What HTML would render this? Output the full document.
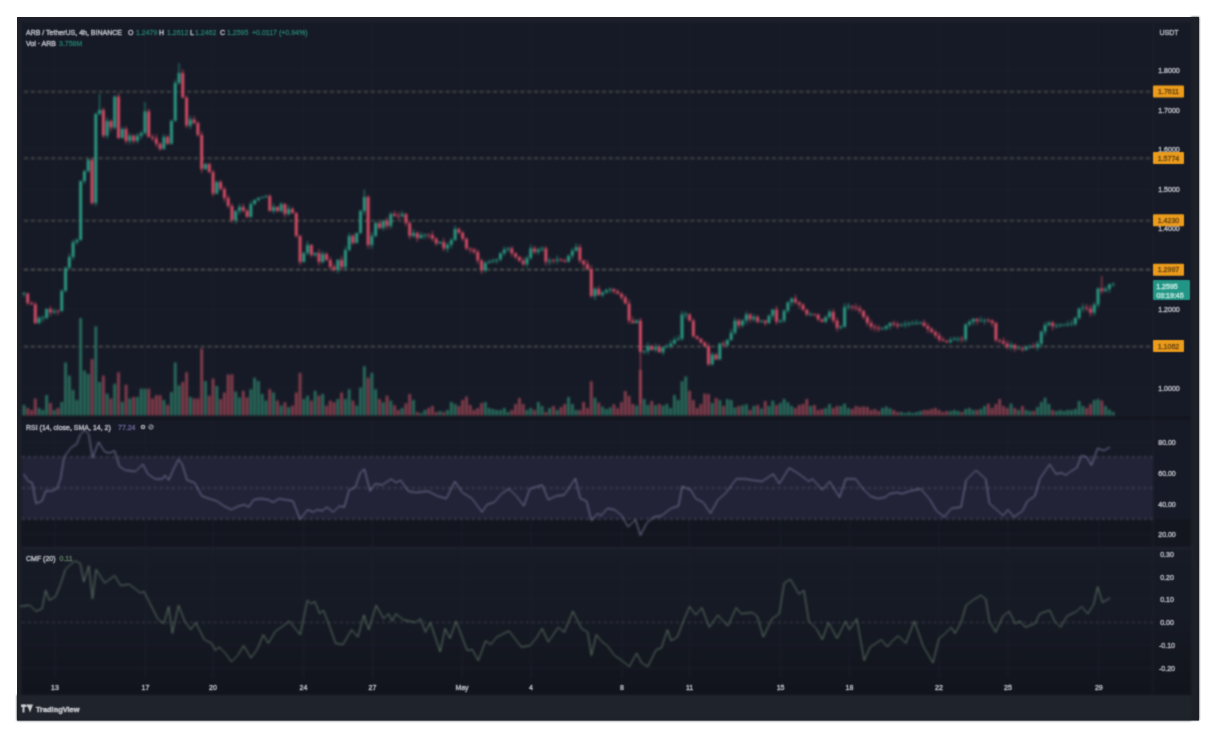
<!DOCTYPE html><html><head><meta charset="utf-8"><style>html,body{margin:0;padding:0;width:1220px;height:740px;overflow:hidden;background:#fff}</style></head><body><svg width="1220" height="740" viewBox="0 0 1220 740" style="position:absolute;left:0;top:0">
<defs><linearGradient id="cg" x1="0" y1="0" x2="0" y2="1"><stop offset="0" stop-color="#171b26"/><stop offset="0.45" stop-color="#161a24"/><stop offset="1" stop-color="#11141c"/></linearGradient><filter id="bl" x="-5%" y="-5%" width="110%" height="110%" color-interpolation-filters="sRGB"><feGaussianBlur stdDeviation="0.85"/></filter><filter id="bt" x="-5%" y="-5%" width="110%" height="110%" color-interpolation-filters="sRGB"><feConvolveMatrix order="3" kernelMatrix="1 3 1 3 9 3 1 3 1" divisor="25" preserveAlpha="false"/></filter></defs>
<rect x="0" y="0" width="1220" height="740" fill="#ffffff"/>
<rect x="17" y="17" width="1182" height="703.5" fill="#1d2029"/>
<g filter="url(#bl)">
<rect x="21.5" y="22.5" width="1169.5" height="672.5" fill="#161a26"/>
<rect x="1191" y="17" width="8" height="703" fill="#1d2027"/>
<rect x="17" y="695" width="1174" height="25.5" fill="#1f232b"/>
<rect x="21.5" y="519" width="1169.5" height="29" fill="#13161f"/>
<rect x="21.5" y="548" width="1169.5" height="147" fill="url(#cg)"/>
<line x1="55" y1="20" x2="55" y2="678" stroke="#1b1f2b" stroke-width="1"/>
<line x1="145.5" y1="20" x2="145.5" y2="678" stroke="#1b1f2b" stroke-width="1"/>
<line x1="213" y1="20" x2="213" y2="678" stroke="#1b1f2b" stroke-width="1"/>
<line x1="303.5" y1="20" x2="303.5" y2="678" stroke="#1b1f2b" stroke-width="1"/>
<line x1="372.5" y1="20" x2="372.5" y2="678" stroke="#1b1f2b" stroke-width="1"/>
<line x1="462" y1="20" x2="462" y2="678" stroke="#1b1f2b" stroke-width="1"/>
<line x1="531" y1="20" x2="531" y2="678" stroke="#1b1f2b" stroke-width="1"/>
<line x1="622" y1="20" x2="622" y2="678" stroke="#1b1f2b" stroke-width="1"/>
<line x1="689.6" y1="20" x2="689.6" y2="678" stroke="#1b1f2b" stroke-width="1"/>
<line x1="780.6" y1="20" x2="780.6" y2="678" stroke="#1b1f2b" stroke-width="1"/>
<line x1="849.4" y1="20" x2="849.4" y2="678" stroke="#1b1f2b" stroke-width="1"/>
<line x1="939" y1="20" x2="939" y2="678" stroke="#1b1f2b" stroke-width="1"/>
<line x1="1008" y1="20" x2="1008" y2="678" stroke="#1b1f2b" stroke-width="1"/>
<line x1="1098.8" y1="20" x2="1098.8" y2="678" stroke="#1b1f2b" stroke-width="1"/>
<line x1="22" y1="70" x2="1153" y2="70" stroke="#1a1e2a" stroke-width="1"/>
<line x1="22" y1="110" x2="1153" y2="110" stroke="#1a1e2a" stroke-width="1"/>
<line x1="22" y1="149" x2="1153" y2="149" stroke="#1a1e2a" stroke-width="1"/>
<line x1="22" y1="189.5" x2="1153" y2="189.5" stroke="#1a1e2a" stroke-width="1"/>
<line x1="22" y1="228" x2="1153" y2="228" stroke="#1a1e2a" stroke-width="1"/>
<line x1="22" y1="269" x2="1153" y2="269" stroke="#1a1e2a" stroke-width="1"/>
<line x1="22" y1="309.5" x2="1153" y2="309.5" stroke="#1a1e2a" stroke-width="1"/>
<line x1="22" y1="348" x2="1153" y2="348" stroke="#1a1e2a" stroke-width="1"/>
<line x1="22" y1="388" x2="1153" y2="388" stroke="#1a1e2a" stroke-width="1"/>
<line x1="22" y1="442.5" x2="1153" y2="442.5" stroke="#1b1f2b" stroke-width="1"/>
<line x1="22" y1="473.5" x2="1153" y2="473.5" stroke="#1b1f2b" stroke-width="1"/>
<line x1="22" y1="504" x2="1153" y2="504" stroke="#1b1f2b" stroke-width="1"/>
<line x1="22" y1="534.3" x2="1153" y2="534.3" stroke="#1b1f2b" stroke-width="1"/>
<line x1="22" y1="554" x2="1153" y2="554" stroke="#1b1f2b" stroke-width="1"/>
<line x1="22" y1="577" x2="1153" y2="577" stroke="#1b1f2b" stroke-width="1"/>
<line x1="22" y1="599" x2="1153" y2="599" stroke="#1b1f2b" stroke-width="1"/>
<line x1="22" y1="645" x2="1153" y2="645" stroke="#1b1f2b" stroke-width="1"/>
<line x1="22" y1="668" x2="1153" y2="668" stroke="#1b1f2b" stroke-width="1"/>
<rect x="21.5" y="416" width="1169.5" height="4" fill="#13161e"/>
<rect x="22" y="547" width="1169" height="2" fill="#1f2330"/>
<line x1="1153" y1="20" x2="1153" y2="695" stroke="#1c202b" stroke-width="1"/>
<rect x="22" y="457" width="1131" height="62" fill="#222337"/>
<line x1="22" y1="457" x2="1153" y2="457" stroke="#5c5f6e" stroke-width="1" stroke-dasharray="2.5,3.5"/>
<line x1="22" y1="488" x2="1153" y2="488" stroke="#5c5f6e" stroke-width="1" stroke-dasharray="2.5,3.5"/>
<line x1="22" y1="519" x2="1153" y2="519" stroke="#5c5f6e" stroke-width="1" stroke-dasharray="2.5,3.5"/>
<line x1="22" y1="622.4" x2="1153" y2="622.4" stroke="#4a4d58" stroke-width="1" stroke-dasharray="2.5,3.5"/>
<line x1="22" y1="91.8" x2="1150" y2="91.8" stroke="#6f7062" stroke-width="1.1" stroke-dasharray="4,2.8" stroke-dashoffset="-2"/>
<line x1="22" y1="158.2" x2="1150" y2="158.2" stroke="#6f7062" stroke-width="1.1" stroke-dasharray="4,2.8" stroke-dashoffset="-2"/>
<line x1="22" y1="220.8" x2="1150" y2="220.8" stroke="#6f7062" stroke-width="1.1" stroke-dasharray="4,2.8" stroke-dashoffset="-2"/>
<line x1="22" y1="269.6" x2="1150" y2="269.6" stroke="#6f7062" stroke-width="1.1" stroke-dasharray="4,2.8" stroke-dashoffset="-2"/>
<line x1="22" y1="346.5" x2="1150" y2="346.5" stroke="#6f7062" stroke-width="1.1" stroke-dasharray="4,2.8" stroke-dashoffset="-2"/>
<rect x="22.59" y="405.00" width="2.7" height="10.50" fill="#2a705f"/>
<rect x="26.37" y="408.00" width="2.7" height="7.50" fill="#8a3f4e"/>
<rect x="30.15" y="410.00" width="2.7" height="5.50" fill="#8a3f4e"/>
<rect x="33.93" y="398.50" width="2.7" height="17.00" fill="#8a3f4e"/>
<rect x="37.72" y="408.00" width="2.7" height="7.50" fill="#2a705f"/>
<rect x="41.50" y="410.00" width="2.7" height="5.50" fill="#2a705f"/>
<rect x="45.28" y="395.00" width="2.7" height="20.50" fill="#2a705f"/>
<rect x="49.06" y="403.00" width="2.7" height="12.50" fill="#8a3f4e"/>
<rect x="52.84" y="410.00" width="2.7" height="5.50" fill="#2a705f"/>
<rect x="56.63" y="408.00" width="2.7" height="7.50" fill="#8a3f4e"/>
<rect x="60.41" y="402.00" width="2.7" height="13.50" fill="#2a705f"/>
<rect x="64.19" y="362.50" width="2.7" height="53.00" fill="#2a705f"/>
<rect x="67.97" y="375.60" width="2.7" height="39.90" fill="#2a705f"/>
<rect x="71.75" y="390.00" width="2.7" height="25.50" fill="#2a705f"/>
<rect x="75.54" y="400.00" width="2.7" height="15.50" fill="#2a705f"/>
<rect x="79.32" y="318.00" width="2.7" height="97.50" fill="#2a705f"/>
<rect x="83.10" y="370.60" width="2.7" height="44.90" fill="#2a705f"/>
<rect x="86.88" y="374.00" width="2.7" height="41.50" fill="#2a705f"/>
<rect x="90.66" y="359.00" width="2.7" height="56.50" fill="#8a3f4e"/>
<rect x="94.45" y="326.40" width="2.7" height="89.10" fill="#2a705f"/>
<rect x="98.23" y="382.00" width="2.7" height="33.50" fill="#2a705f"/>
<rect x="102.01" y="375.60" width="2.7" height="39.90" fill="#8a3f4e"/>
<rect x="105.79" y="393.60" width="2.7" height="21.90" fill="#2a705f"/>
<rect x="109.57" y="398.50" width="2.7" height="17.00" fill="#8a3f4e"/>
<rect x="113.36" y="383.80" width="2.7" height="31.70" fill="#2a705f"/>
<rect x="117.14" y="372.30" width="2.7" height="43.20" fill="#8a3f4e"/>
<rect x="120.92" y="401.80" width="2.7" height="13.70" fill="#2a705f"/>
<rect x="124.70" y="384.60" width="2.7" height="30.90" fill="#8a3f4e"/>
<rect x="128.48" y="398.50" width="2.7" height="17.00" fill="#2a705f"/>
<rect x="132.27" y="397.00" width="2.7" height="18.50" fill="#8a3f4e"/>
<rect x="136.05" y="397.00" width="2.7" height="18.50" fill="#2a705f"/>
<rect x="139.83" y="388.70" width="2.7" height="26.80" fill="#2a705f"/>
<rect x="143.61" y="388.70" width="2.7" height="26.80" fill="#2a705f"/>
<rect x="147.39" y="388.70" width="2.7" height="26.80" fill="#8a3f4e"/>
<rect x="151.18" y="398.50" width="2.7" height="17.00" fill="#8a3f4e"/>
<rect x="154.96" y="395.20" width="2.7" height="20.30" fill="#8a3f4e"/>
<rect x="158.74" y="395.20" width="2.7" height="20.30" fill="#8a3f4e"/>
<rect x="162.52" y="400.00" width="2.7" height="15.50" fill="#2a705f"/>
<rect x="166.30" y="405.00" width="2.7" height="10.50" fill="#8a3f4e"/>
<rect x="170.09" y="392.00" width="2.7" height="23.50" fill="#2a705f"/>
<rect x="173.87" y="362.50" width="2.7" height="53.00" fill="#2a705f"/>
<rect x="177.65" y="385.40" width="2.7" height="30.10" fill="#2a705f"/>
<rect x="181.43" y="382.00" width="2.7" height="33.50" fill="#8a3f4e"/>
<rect x="185.21" y="372.30" width="2.7" height="43.20" fill="#8a3f4e"/>
<rect x="189.00" y="397.00" width="2.7" height="18.50" fill="#2a705f"/>
<rect x="192.78" y="398.50" width="2.7" height="17.00" fill="#8a3f4e"/>
<rect x="196.56" y="398.50" width="2.7" height="17.00" fill="#8a3f4e"/>
<rect x="200.34" y="348.50" width="2.7" height="67.00" fill="#8a3f4e"/>
<rect x="204.12" y="381.00" width="2.7" height="34.50" fill="#2a705f"/>
<rect x="207.91" y="395.70" width="2.7" height="19.80" fill="#8a3f4e"/>
<rect x="211.69" y="378.50" width="2.7" height="37.00" fill="#8a3f4e"/>
<rect x="215.47" y="386.00" width="2.7" height="29.50" fill="#2a705f"/>
<rect x="219.25" y="399.00" width="2.7" height="16.50" fill="#8a3f4e"/>
<rect x="223.03" y="392.50" width="2.7" height="23.00" fill="#8a3f4e"/>
<rect x="226.82" y="374.40" width="2.7" height="41.10" fill="#8a3f4e"/>
<rect x="230.60" y="374.40" width="2.7" height="41.10" fill="#8a3f4e"/>
<rect x="234.38" y="391.54" width="2.7" height="23.96" fill="#2a705f"/>
<rect x="238.16" y="397.40" width="2.7" height="18.10" fill="#2a705f"/>
<rect x="241.94" y="390.80" width="2.7" height="24.70" fill="#8a3f4e"/>
<rect x="245.73" y="397.40" width="2.7" height="18.10" fill="#8a3f4e"/>
<rect x="249.51" y="389.20" width="2.7" height="26.30" fill="#2a705f"/>
<rect x="253.29" y="377.70" width="2.7" height="37.80" fill="#2a705f"/>
<rect x="257.07" y="381.00" width="2.7" height="34.50" fill="#2a705f"/>
<rect x="260.85" y="394.00" width="2.7" height="21.50" fill="#2a705f"/>
<rect x="264.64" y="400.60" width="2.7" height="14.90" fill="#2a705f"/>
<rect x="268.42" y="389.20" width="2.7" height="26.30" fill="#8a3f4e"/>
<rect x="272.20" y="392.50" width="2.7" height="23.00" fill="#2a705f"/>
<rect x="275.98" y="400.60" width="2.7" height="14.90" fill="#8a3f4e"/>
<rect x="279.76" y="405.60" width="2.7" height="9.90" fill="#2a705f"/>
<rect x="283.55" y="402.30" width="2.7" height="13.20" fill="#8a3f4e"/>
<rect x="287.33" y="407.20" width="2.7" height="8.30" fill="#2a705f"/>
<rect x="291.11" y="405.60" width="2.7" height="9.90" fill="#8a3f4e"/>
<rect x="294.89" y="392.50" width="2.7" height="23.00" fill="#8a3f4e"/>
<rect x="298.67" y="372.80" width="2.7" height="42.70" fill="#8a3f4e"/>
<rect x="302.46" y="399.00" width="2.7" height="16.50" fill="#2a705f"/>
<rect x="306.24" y="395.70" width="2.7" height="19.80" fill="#2a705f"/>
<rect x="310.02" y="400.60" width="2.7" height="14.90" fill="#8a3f4e"/>
<rect x="313.80" y="390.80" width="2.7" height="24.70" fill="#2a705f"/>
<rect x="317.58" y="395.70" width="2.7" height="19.80" fill="#8a3f4e"/>
<rect x="321.37" y="394.00" width="2.7" height="21.50" fill="#2a705f"/>
<rect x="325.15" y="405.60" width="2.7" height="9.90" fill="#8a3f4e"/>
<rect x="328.93" y="400.60" width="2.7" height="14.90" fill="#8a3f4e"/>
<rect x="332.71" y="402.30" width="2.7" height="13.20" fill="#8a3f4e"/>
<rect x="336.49" y="399.00" width="2.7" height="16.50" fill="#2a705f"/>
<rect x="340.28" y="392.50" width="2.7" height="23.00" fill="#8a3f4e"/>
<rect x="344.06" y="399.00" width="2.7" height="16.50" fill="#2a705f"/>
<rect x="347.84" y="389.20" width="2.7" height="26.30" fill="#2a705f"/>
<rect x="351.62" y="400.60" width="2.7" height="14.90" fill="#8a3f4e"/>
<rect x="355.40" y="405.60" width="2.7" height="9.90" fill="#2a705f"/>
<rect x="359.19" y="387.50" width="2.7" height="28.00" fill="#2a705f"/>
<rect x="362.97" y="366.20" width="2.7" height="49.30" fill="#2a705f"/>
<rect x="366.75" y="377.70" width="2.7" height="37.80" fill="#8a3f4e"/>
<rect x="370.53" y="372.80" width="2.7" height="42.70" fill="#2a705f"/>
<rect x="374.31" y="389.20" width="2.7" height="26.30" fill="#2a705f"/>
<rect x="378.10" y="399.00" width="2.7" height="16.50" fill="#8a3f4e"/>
<rect x="381.88" y="402.30" width="2.7" height="13.20" fill="#2a705f"/>
<rect x="385.66" y="395.70" width="2.7" height="19.80" fill="#8a3f4e"/>
<rect x="389.44" y="400.60" width="2.7" height="14.90" fill="#2a705f"/>
<rect x="393.22" y="405.30" width="2.7" height="10.20" fill="#8a3f4e"/>
<rect x="397.01" y="410.00" width="2.7" height="5.50" fill="#8a3f4e"/>
<rect x="400.79" y="408.00" width="2.7" height="7.50" fill="#2a705f"/>
<rect x="404.57" y="403.28" width="2.7" height="12.22" fill="#8a3f4e"/>
<rect x="408.35" y="394.00" width="2.7" height="21.50" fill="#8a3f4e"/>
<rect x="412.13" y="400.00" width="2.7" height="15.50" fill="#2a705f"/>
<rect x="415.92" y="412.00" width="2.7" height="3.50" fill="#8a3f4e"/>
<rect x="419.70" y="413.00" width="2.7" height="2.50" fill="#2a705f"/>
<rect x="423.48" y="410.00" width="2.7" height="5.50" fill="#2a705f"/>
<rect x="427.26" y="408.00" width="2.7" height="7.50" fill="#8a3f4e"/>
<rect x="431.04" y="406.00" width="2.7" height="9.50" fill="#8a3f4e"/>
<rect x="434.83" y="412.00" width="2.7" height="3.50" fill="#8a3f4e"/>
<rect x="438.61" y="411.00" width="2.7" height="4.50" fill="#2a705f"/>
<rect x="442.39" y="412.00" width="2.7" height="3.50" fill="#8a3f4e"/>
<rect x="446.17" y="410.00" width="2.7" height="5.50" fill="#2a705f"/>
<rect x="449.95" y="402.00" width="2.7" height="13.50" fill="#2a705f"/>
<rect x="453.74" y="404.00" width="2.7" height="11.50" fill="#2a705f"/>
<rect x="457.52" y="406.00" width="2.7" height="9.50" fill="#8a3f4e"/>
<rect x="461.30" y="400.00" width="2.7" height="15.50" fill="#8a3f4e"/>
<rect x="465.08" y="396.60" width="2.7" height="18.90" fill="#8a3f4e"/>
<rect x="468.86" y="405.00" width="2.7" height="10.50" fill="#8a3f4e"/>
<rect x="472.65" y="410.00" width="2.7" height="5.50" fill="#8a3f4e"/>
<rect x="476.43" y="408.00" width="2.7" height="7.50" fill="#8a3f4e"/>
<rect x="480.21" y="403.00" width="2.7" height="12.50" fill="#8a3f4e"/>
<rect x="483.99" y="402.00" width="2.7" height="13.50" fill="#2a705f"/>
<rect x="487.77" y="408.00" width="2.7" height="7.50" fill="#2a705f"/>
<rect x="491.56" y="408.95" width="2.7" height="6.55" fill="#2a705f"/>
<rect x="495.34" y="410.00" width="2.7" height="5.50" fill="#2a705f"/>
<rect x="499.12" y="410.00" width="2.7" height="5.50" fill="#2a705f"/>
<rect x="502.90" y="408.00" width="2.7" height="7.50" fill="#2a705f"/>
<rect x="506.68" y="412.00" width="2.7" height="3.50" fill="#2a705f"/>
<rect x="510.47" y="410.00" width="2.7" height="5.50" fill="#8a3f4e"/>
<rect x="514.25" y="404.00" width="2.7" height="11.50" fill="#8a3f4e"/>
<rect x="518.03" y="398.00" width="2.7" height="17.50" fill="#8a3f4e"/>
<rect x="521.81" y="404.00" width="2.7" height="11.50" fill="#8a3f4e"/>
<rect x="525.59" y="410.00" width="2.7" height="5.50" fill="#2a705f"/>
<rect x="529.38" y="408.00" width="2.7" height="7.50" fill="#2a705f"/>
<rect x="533.16" y="410.00" width="2.7" height="5.50" fill="#8a3f4e"/>
<rect x="536.94" y="402.00" width="2.7" height="13.50" fill="#2a705f"/>
<rect x="540.72" y="406.00" width="2.7" height="9.50" fill="#2a705f"/>
<rect x="544.50" y="412.00" width="2.7" height="3.50" fill="#8a3f4e"/>
<rect x="548.29" y="408.00" width="2.7" height="7.50" fill="#2a705f"/>
<rect x="552.07" y="406.00" width="2.7" height="9.50" fill="#8a3f4e"/>
<rect x="555.85" y="410.00" width="2.7" height="5.50" fill="#2a705f"/>
<rect x="559.63" y="407.03" width="2.7" height="8.47" fill="#8a3f4e"/>
<rect x="563.41" y="404.00" width="2.7" height="11.50" fill="#8a3f4e"/>
<rect x="567.20" y="397.00" width="2.7" height="18.50" fill="#2a705f"/>
<rect x="570.98" y="404.00" width="2.7" height="11.50" fill="#2a705f"/>
<rect x="574.76" y="410.00" width="2.7" height="5.50" fill="#2a705f"/>
<rect x="578.54" y="410.00" width="2.7" height="5.50" fill="#8a3f4e"/>
<rect x="582.32" y="402.00" width="2.7" height="13.50" fill="#8a3f4e"/>
<rect x="586.11" y="408.00" width="2.7" height="7.50" fill="#8a3f4e"/>
<rect x="589.89" y="381.30" width="2.7" height="34.20" fill="#8a3f4e"/>
<rect x="593.67" y="397.70" width="2.7" height="17.80" fill="#2a705f"/>
<rect x="597.45" y="402.76" width="2.7" height="12.74" fill="#8a3f4e"/>
<rect x="601.23" y="406.70" width="2.7" height="8.80" fill="#2a705f"/>
<rect x="605.02" y="409.00" width="2.7" height="6.50" fill="#2a705f"/>
<rect x="608.80" y="407.50" width="2.7" height="8.00" fill="#2a705f"/>
<rect x="612.58" y="404.30" width="2.7" height="11.20" fill="#8a3f4e"/>
<rect x="616.36" y="408.30" width="2.7" height="7.20" fill="#8a3f4e"/>
<rect x="620.14" y="402.00" width="2.7" height="13.50" fill="#8a3f4e"/>
<rect x="623.93" y="391.00" width="2.7" height="24.50" fill="#8a3f4e"/>
<rect x="627.71" y="395.94" width="2.7" height="19.56" fill="#8a3f4e"/>
<rect x="631.49" y="404.00" width="2.7" height="11.50" fill="#8a3f4e"/>
<rect x="635.27" y="405.60" width="2.7" height="9.90" fill="#2a705f"/>
<rect x="639.05" y="370.00" width="2.7" height="45.50" fill="#8a3f4e"/>
<rect x="642.84" y="399.00" width="2.7" height="16.50" fill="#2a705f"/>
<rect x="646.62" y="405.00" width="2.7" height="10.50" fill="#2a705f"/>
<rect x="650.40" y="401.00" width="2.7" height="14.50" fill="#8a3f4e"/>
<rect x="654.18" y="405.00" width="2.7" height="10.50" fill="#2a705f"/>
<rect x="657.96" y="404.00" width="2.7" height="11.50" fill="#8a3f4e"/>
<rect x="661.75" y="405.60" width="2.7" height="9.90" fill="#2a705f"/>
<rect x="665.53" y="404.00" width="2.7" height="11.50" fill="#2a705f"/>
<rect x="669.31" y="408.00" width="2.7" height="7.50" fill="#2a705f"/>
<rect x="673.09" y="395.00" width="2.7" height="20.50" fill="#2a705f"/>
<rect x="676.87" y="400.00" width="2.7" height="15.50" fill="#2a705f"/>
<rect x="680.66" y="381.30" width="2.7" height="34.20" fill="#2a705f"/>
<rect x="684.44" y="376.40" width="2.7" height="39.10" fill="#2a705f"/>
<rect x="688.22" y="390.70" width="2.7" height="24.80" fill="#8a3f4e"/>
<rect x="692.00" y="400.00" width="2.7" height="15.50" fill="#8a3f4e"/>
<rect x="695.78" y="408.00" width="2.7" height="7.50" fill="#8a3f4e"/>
<rect x="699.57" y="404.00" width="2.7" height="11.50" fill="#8a3f4e"/>
<rect x="703.35" y="393.60" width="2.7" height="21.90" fill="#8a3f4e"/>
<rect x="707.13" y="394.00" width="2.7" height="21.50" fill="#8a3f4e"/>
<rect x="710.91" y="403.00" width="2.7" height="12.50" fill="#2a705f"/>
<rect x="714.69" y="398.00" width="2.7" height="17.50" fill="#8a3f4e"/>
<rect x="718.48" y="400.00" width="2.7" height="15.50" fill="#2a705f"/>
<rect x="722.26" y="406.00" width="2.7" height="9.50" fill="#8a3f4e"/>
<rect x="726.04" y="399.00" width="2.7" height="16.50" fill="#2a705f"/>
<rect x="729.82" y="400.00" width="2.7" height="15.50" fill="#2a705f"/>
<rect x="733.60" y="407.50" width="2.7" height="8.00" fill="#2a705f"/>
<rect x="737.39" y="406.00" width="2.7" height="9.50" fill="#8a3f4e"/>
<rect x="741.17" y="405.33" width="2.7" height="10.17" fill="#2a705f"/>
<rect x="744.95" y="404.30" width="2.7" height="11.20" fill="#2a705f"/>
<rect x="748.73" y="410.00" width="2.7" height="5.50" fill="#8a3f4e"/>
<rect x="752.51" y="406.00" width="2.7" height="9.50" fill="#2a705f"/>
<rect x="756.30" y="405.00" width="2.7" height="10.50" fill="#8a3f4e"/>
<rect x="760.08" y="408.50" width="2.7" height="7.00" fill="#2a705f"/>
<rect x="763.86" y="401.00" width="2.7" height="14.50" fill="#8a3f4e"/>
<rect x="767.64" y="406.00" width="2.7" height="9.50" fill="#2a705f"/>
<rect x="771.42" y="400.60" width="2.7" height="14.90" fill="#2a705f"/>
<rect x="775.21" y="405.00" width="2.7" height="10.50" fill="#8a3f4e"/>
<rect x="778.99" y="403.00" width="2.7" height="12.50" fill="#2a705f"/>
<rect x="782.77" y="399.00" width="2.7" height="16.50" fill="#2a705f"/>
<rect x="786.55" y="402.33" width="2.7" height="13.17" fill="#2a705f"/>
<rect x="790.33" y="406.00" width="2.7" height="9.50" fill="#2a705f"/>
<rect x="794.12" y="408.00" width="2.7" height="7.50" fill="#8a3f4e"/>
<rect x="797.90" y="405.00" width="2.7" height="10.50" fill="#8a3f4e"/>
<rect x="801.68" y="404.00" width="2.7" height="11.50" fill="#8a3f4e"/>
<rect x="805.46" y="399.00" width="2.7" height="16.50" fill="#8a3f4e"/>
<rect x="809.24" y="406.00" width="2.7" height="9.50" fill="#2a705f"/>
<rect x="813.03" y="405.00" width="2.7" height="10.50" fill="#8a3f4e"/>
<rect x="816.81" y="410.00" width="2.7" height="5.50" fill="#8a3f4e"/>
<rect x="820.59" y="409.03" width="2.7" height="6.47" fill="#8a3f4e"/>
<rect x="824.37" y="408.00" width="2.7" height="7.50" fill="#2a705f"/>
<rect x="828.15" y="404.00" width="2.7" height="11.50" fill="#2a705f"/>
<rect x="831.94" y="408.00" width="2.7" height="7.50" fill="#8a3f4e"/>
<rect x="835.72" y="406.00" width="2.7" height="9.50" fill="#8a3f4e"/>
<rect x="839.50" y="406.00" width="2.7" height="9.50" fill="#2a705f"/>
<rect x="843.28" y="403.60" width="2.7" height="11.90" fill="#2a705f"/>
<rect x="847.06" y="408.00" width="2.7" height="7.50" fill="#2a705f"/>
<rect x="850.85" y="409.00" width="2.7" height="6.50" fill="#8a3f4e"/>
<rect x="854.63" y="406.00" width="2.7" height="9.50" fill="#8a3f4e"/>
<rect x="858.41" y="407.00" width="2.7" height="8.50" fill="#8a3f4e"/>
<rect x="862.19" y="406.50" width="2.7" height="9.00" fill="#8a3f4e"/>
<rect x="865.97" y="407.00" width="2.7" height="8.50" fill="#8a3f4e"/>
<rect x="869.76" y="410.00" width="2.7" height="5.50" fill="#8a3f4e"/>
<rect x="873.54" y="409.00" width="2.7" height="6.50" fill="#8a3f4e"/>
<rect x="877.32" y="411.00" width="2.7" height="4.50" fill="#8a3f4e"/>
<rect x="881.10" y="408.00" width="2.7" height="7.50" fill="#2a705f"/>
<rect x="884.88" y="406.50" width="2.7" height="9.00" fill="#2a705f"/>
<rect x="888.67" y="408.26" width="2.7" height="7.24" fill="#2a705f"/>
<rect x="892.45" y="410.00" width="2.7" height="5.50" fill="#8a3f4e"/>
<rect x="896.23" y="412.00" width="2.7" height="3.50" fill="#8a3f4e"/>
<rect x="900.01" y="412.00" width="2.7" height="3.50" fill="#2a705f"/>
<rect x="903.79" y="413.00" width="2.7" height="2.50" fill="#2a705f"/>
<rect x="907.58" y="412.00" width="2.7" height="3.50" fill="#2a705f"/>
<rect x="911.36" y="413.00" width="2.7" height="2.50" fill="#2a705f"/>
<rect x="915.14" y="412.00" width="2.7" height="3.50" fill="#2a705f"/>
<rect x="918.92" y="411.00" width="2.7" height="4.50" fill="#2a705f"/>
<rect x="922.70" y="410.00" width="2.7" height="5.50" fill="#8a3f4e"/>
<rect x="926.49" y="410.00" width="2.7" height="5.50" fill="#8a3f4e"/>
<rect x="930.27" y="409.00" width="2.7" height="6.50" fill="#8a3f4e"/>
<rect x="934.05" y="408.00" width="2.7" height="7.50" fill="#8a3f4e"/>
<rect x="937.83" y="410.00" width="2.7" height="5.50" fill="#8a3f4e"/>
<rect x="941.61" y="412.00" width="2.7" height="3.50" fill="#8a3f4e"/>
<rect x="945.40" y="411.00" width="2.7" height="4.50" fill="#8a3f4e"/>
<rect x="949.18" y="411.00" width="2.7" height="4.50" fill="#2a705f"/>
<rect x="952.96" y="410.00" width="2.7" height="5.50" fill="#2a705f"/>
<rect x="956.74" y="411.05" width="2.7" height="4.45" fill="#2a705f"/>
<rect x="960.52" y="412.00" width="2.7" height="3.50" fill="#8a3f4e"/>
<rect x="964.31" y="409.00" width="2.7" height="6.50" fill="#2a705f"/>
<rect x="968.09" y="408.00" width="2.7" height="7.50" fill="#2a705f"/>
<rect x="971.87" y="410.00" width="2.7" height="5.50" fill="#2a705f"/>
<rect x="975.65" y="410.00" width="2.7" height="5.50" fill="#8a3f4e"/>
<rect x="979.43" y="409.00" width="2.7" height="6.50" fill="#2a705f"/>
<rect x="983.22" y="406.00" width="2.7" height="9.50" fill="#2a705f"/>
<rect x="987.00" y="403.60" width="2.7" height="11.90" fill="#8a3f4e"/>
<rect x="990.78" y="408.00" width="2.7" height="7.50" fill="#8a3f4e"/>
<rect x="994.56" y="404.00" width="2.7" height="11.50" fill="#8a3f4e"/>
<rect x="998.34" y="399.00" width="2.7" height="16.50" fill="#8a3f4e"/>
<rect x="1002.13" y="406.00" width="2.7" height="9.50" fill="#8a3f4e"/>
<rect x="1005.91" y="408.00" width="2.7" height="7.50" fill="#8a3f4e"/>
<rect x="1009.69" y="403.60" width="2.7" height="11.90" fill="#2a705f"/>
<rect x="1013.47" y="408.00" width="2.7" height="7.50" fill="#8a3f4e"/>
<rect x="1017.25" y="410.00" width="2.7" height="5.50" fill="#2a705f"/>
<rect x="1021.04" y="406.00" width="2.7" height="9.50" fill="#8a3f4e"/>
<rect x="1024.82" y="410.00" width="2.7" height="5.50" fill="#2a705f"/>
<rect x="1028.60" y="411.00" width="2.7" height="4.50" fill="#2a705f"/>
<rect x="1032.38" y="411.00" width="2.7" height="4.50" fill="#8a3f4e"/>
<rect x="1036.16" y="407.00" width="2.7" height="8.50" fill="#2a705f"/>
<rect x="1039.95" y="402.00" width="2.7" height="13.50" fill="#2a705f"/>
<rect x="1043.73" y="397.70" width="2.7" height="17.80" fill="#2a705f"/>
<rect x="1047.51" y="404.00" width="2.7" height="11.50" fill="#2a705f"/>
<rect x="1051.29" y="410.00" width="2.7" height="5.50" fill="#8a3f4e"/>
<rect x="1055.07" y="411.00" width="2.7" height="4.50" fill="#2a705f"/>
<rect x="1058.86" y="410.00" width="2.7" height="5.50" fill="#2a705f"/>
<rect x="1062.64" y="411.00" width="2.7" height="4.50" fill="#2a705f"/>
<rect x="1066.42" y="410.00" width="2.7" height="5.50" fill="#2a705f"/>
<rect x="1070.20" y="410.00" width="2.7" height="5.50" fill="#2a705f"/>
<rect x="1073.98" y="409.00" width="2.7" height="6.50" fill="#2a705f"/>
<rect x="1077.77" y="401.00" width="2.7" height="14.50" fill="#2a705f"/>
<rect x="1081.55" y="406.00" width="2.7" height="9.50" fill="#2a705f"/>
<rect x="1085.33" y="408.00" width="2.7" height="7.50" fill="#8a3f4e"/>
<rect x="1089.11" y="404.00" width="2.7" height="11.50" fill="#8a3f4e"/>
<rect x="1092.89" y="400.00" width="2.7" height="15.50" fill="#2a705f"/>
<rect x="1096.68" y="399.00" width="2.7" height="16.50" fill="#2a705f"/>
<rect x="1100.46" y="400.60" width="2.7" height="14.90" fill="#8a3f4e"/>
<rect x="1104.24" y="406.00" width="2.7" height="9.50" fill="#2a705f"/>
<rect x="1108.02" y="409.50" width="2.7" height="6.00" fill="#2a705f"/>
<rect x="1111.80" y="412.00" width="2.7" height="3.50" fill="#2a705f"/>
<line x1="23.94" y1="291.97" x2="23.94" y2="296.78" stroke="#2ba58b" stroke-width="0.8"/>
<rect x="22.59" y="293.00" width="2.7" height="1.00" fill="#2ba58b"/>
<line x1="27.72" y1="292.75" x2="27.72" y2="305.38" stroke="#e64f6a" stroke-width="0.8"/>
<rect x="26.37" y="293.50" width="2.7" height="9.50" fill="#e64f6a"/>
<line x1="31.50" y1="301.22" x2="31.50" y2="305.00" stroke="#e64f6a" stroke-width="0.8"/>
<rect x="30.15" y="303.00" width="2.7" height="1.30" fill="#e64f6a"/>
<line x1="35.28" y1="302.02" x2="35.28" y2="323.83" stroke="#e64f6a" stroke-width="0.8"/>
<rect x="33.93" y="304.30" width="2.7" height="18.90" fill="#e64f6a"/>
<line x1="39.07" y1="315.98" x2="39.07" y2="323.94" stroke="#2ba58b" stroke-width="0.8"/>
<rect x="37.72" y="318.00" width="2.7" height="5.20" fill="#2ba58b"/>
<line x1="42.85" y1="315.51" x2="42.85" y2="321.89" stroke="#2ba58b" stroke-width="0.8"/>
<rect x="41.50" y="317.50" width="2.7" height="1.00" fill="#2ba58b"/>
<line x1="46.63" y1="308.07" x2="46.63" y2="319.28" stroke="#2ba58b" stroke-width="0.8"/>
<rect x="45.28" y="309.00" width="2.7" height="9.00" fill="#2ba58b"/>
<line x1="50.41" y1="306.30" x2="50.41" y2="316.22" stroke="#e64f6a" stroke-width="0.8"/>
<rect x="49.06" y="309.00" width="2.7" height="3.40" fill="#e64f6a"/>
<line x1="54.19" y1="308.48" x2="54.19" y2="314.29" stroke="#2ba58b" stroke-width="0.8"/>
<rect x="52.84" y="311.00" width="2.7" height="1.40" fill="#2ba58b"/>
<line x1="57.98" y1="309.84" x2="57.98" y2="315.00" stroke="#e64f6a" stroke-width="0.8"/>
<rect x="56.63" y="310.50" width="2.7" height="1.00" fill="#e64f6a"/>
<line x1="61.76" y1="289.29" x2="61.76" y2="312.00" stroke="#2ba58b" stroke-width="0.8"/>
<rect x="60.41" y="290.80" width="2.7" height="20.20" fill="#2ba58b"/>
<line x1="65.54" y1="266.89" x2="65.54" y2="292.38" stroke="#2ba58b" stroke-width="0.8"/>
<rect x="64.19" y="267.80" width="2.7" height="23.00" fill="#2ba58b"/>
<line x1="69.32" y1="253.64" x2="69.32" y2="268.93" stroke="#2ba58b" stroke-width="0.8"/>
<rect x="67.97" y="257.00" width="2.7" height="10.80" fill="#2ba58b"/>
<line x1="73.10" y1="239.66" x2="73.10" y2="259.74" stroke="#2ba58b" stroke-width="0.8"/>
<rect x="71.75" y="242.20" width="2.7" height="14.80" fill="#2ba58b"/>
<line x1="76.89" y1="238.20" x2="76.89" y2="244.62" stroke="#2ba58b" stroke-width="0.8"/>
<rect x="75.54" y="240.00" width="2.7" height="2.20" fill="#2ba58b"/>
<line x1="80.67" y1="180.28" x2="80.67" y2="240.71" stroke="#2ba58b" stroke-width="0.8"/>
<rect x="79.32" y="181.00" width="2.7" height="59.00" fill="#2ba58b"/>
<line x1="84.45" y1="169.86" x2="84.45" y2="183.88" stroke="#2ba58b" stroke-width="0.8"/>
<rect x="83.10" y="171.08" width="2.7" height="9.92" fill="#2ba58b"/>
<line x1="88.23" y1="158.00" x2="88.23" y2="172.68" stroke="#2ba58b" stroke-width="0.8"/>
<rect x="86.88" y="160.00" width="2.7" height="11.08" fill="#2ba58b"/>
<line x1="92.01" y1="157.45" x2="92.01" y2="205.09" stroke="#e64f6a" stroke-width="0.8"/>
<rect x="90.66" y="160.00" width="2.7" height="43.00" fill="#e64f6a"/>
<line x1="95.80" y1="112.45" x2="95.80" y2="206.28" stroke="#2ba58b" stroke-width="0.8"/>
<rect x="94.45" y="114.00" width="2.7" height="89.00" fill="#2ba58b"/>
<line x1="99.58" y1="94.00" x2="99.58" y2="115.35" stroke="#2ba58b" stroke-width="0.8"/>
<rect x="98.23" y="110.00" width="2.7" height="4.00" fill="#2ba58b"/>
<line x1="103.36" y1="107.49" x2="103.36" y2="138.04" stroke="#e64f6a" stroke-width="0.8"/>
<rect x="102.01" y="110.00" width="2.7" height="25.70" fill="#e64f6a"/>
<line x1="107.14" y1="117.44" x2="107.14" y2="138.75" stroke="#2ba58b" stroke-width="0.8"/>
<rect x="105.79" y="121.00" width="2.7" height="14.70" fill="#2ba58b"/>
<line x1="110.92" y1="119.49" x2="110.92" y2="131.53" stroke="#e64f6a" stroke-width="0.8"/>
<rect x="109.57" y="121.00" width="2.7" height="6.60" fill="#e64f6a"/>
<line x1="114.71" y1="95.59" x2="114.71" y2="129.56" stroke="#2ba58b" stroke-width="0.8"/>
<rect x="113.36" y="96.50" width="2.7" height="31.10" fill="#2ba58b"/>
<line x1="118.49" y1="93.35" x2="118.49" y2="139.03" stroke="#e64f6a" stroke-width="0.8"/>
<rect x="117.14" y="96.50" width="2.7" height="41.50" fill="#e64f6a"/>
<line x1="122.27" y1="126.79" x2="122.27" y2="138.64" stroke="#2ba58b" stroke-width="0.8"/>
<rect x="120.92" y="129.00" width="2.7" height="9.00" fill="#2ba58b"/>
<line x1="126.05" y1="126.16" x2="126.05" y2="144.18" stroke="#e64f6a" stroke-width="0.8"/>
<rect x="124.70" y="129.00" width="2.7" height="12.00" fill="#e64f6a"/>
<line x1="129.83" y1="133.19" x2="129.83" y2="144.56" stroke="#2ba58b" stroke-width="0.8"/>
<rect x="128.48" y="135.70" width="2.7" height="5.30" fill="#2ba58b"/>
<line x1="133.62" y1="134.10" x2="133.62" y2="143.93" stroke="#e64f6a" stroke-width="0.8"/>
<rect x="132.27" y="135.70" width="2.7" height="5.30" fill="#e64f6a"/>
<line x1="137.40" y1="133.12" x2="137.40" y2="143.53" stroke="#2ba58b" stroke-width="0.8"/>
<rect x="136.05" y="135.70" width="2.7" height="5.30" fill="#2ba58b"/>
<line x1="141.18" y1="130.90" x2="141.18" y2="139.14" stroke="#2ba58b" stroke-width="0.8"/>
<rect x="139.83" y="133.00" width="2.7" height="2.70" fill="#2ba58b"/>
<line x1="144.96" y1="102.00" x2="144.96" y2="135.16" stroke="#2ba58b" stroke-width="0.8"/>
<rect x="143.61" y="111.40" width="2.7" height="21.60" fill="#2ba58b"/>
<line x1="148.74" y1="108.58" x2="148.74" y2="137.71" stroke="#e64f6a" stroke-width="0.8"/>
<rect x="147.39" y="111.40" width="2.7" height="25.60" fill="#e64f6a"/>
<line x1="152.53" y1="134.04" x2="152.53" y2="141.16" stroke="#e64f6a" stroke-width="0.8"/>
<rect x="151.18" y="137.00" width="2.7" height="1.40" fill="#e64f6a"/>
<line x1="156.31" y1="134.42" x2="156.31" y2="147.18" stroke="#e64f6a" stroke-width="0.8"/>
<rect x="154.96" y="138.40" width="2.7" height="5.40" fill="#e64f6a"/>
<line x1="160.09" y1="142.30" x2="160.09" y2="150.85" stroke="#e64f6a" stroke-width="0.8"/>
<rect x="158.74" y="143.80" width="2.7" height="5.20" fill="#e64f6a"/>
<line x1="163.87" y1="134.16" x2="163.87" y2="149.58" stroke="#2ba58b" stroke-width="0.8"/>
<rect x="162.52" y="137.00" width="2.7" height="12.00" fill="#2ba58b"/>
<line x1="167.65" y1="134.88" x2="167.65" y2="144.89" stroke="#e64f6a" stroke-width="0.8"/>
<rect x="166.30" y="137.00" width="2.7" height="6.80" fill="#e64f6a"/>
<line x1="171.44" y1="119.89" x2="171.44" y2="144.51" stroke="#2ba58b" stroke-width="0.8"/>
<rect x="170.09" y="120.80" width="2.7" height="23.00" fill="#2ba58b"/>
<line x1="175.22" y1="79.81" x2="175.22" y2="121.75" stroke="#2ba58b" stroke-width="0.8"/>
<rect x="173.87" y="83.00" width="2.7" height="37.80" fill="#2ba58b"/>
<line x1="179.00" y1="63.00" x2="179.00" y2="84.87" stroke="#2ba58b" stroke-width="0.8"/>
<rect x="177.65" y="73.00" width="2.7" height="10.00" fill="#2ba58b"/>
<line x1="182.78" y1="69.45" x2="182.78" y2="98.38" stroke="#e64f6a" stroke-width="0.8"/>
<rect x="181.43" y="73.00" width="2.7" height="24.60" fill="#e64f6a"/>
<line x1="186.56" y1="95.53" x2="186.56" y2="128.02" stroke="#e64f6a" stroke-width="0.8"/>
<rect x="185.21" y="97.60" width="2.7" height="28.00" fill="#e64f6a"/>
<line x1="190.35" y1="115.91" x2="190.35" y2="128.97" stroke="#2ba58b" stroke-width="0.8"/>
<rect x="189.00" y="119.50" width="2.7" height="6.10" fill="#2ba58b"/>
<line x1="194.13" y1="115.98" x2="194.13" y2="124.47" stroke="#e64f6a" stroke-width="0.8"/>
<rect x="192.78" y="119.50" width="2.7" height="3.50" fill="#e64f6a"/>
<line x1="197.91" y1="121.05" x2="197.91" y2="136.76" stroke="#e64f6a" stroke-width="0.8"/>
<rect x="196.56" y="123.00" width="2.7" height="12.00" fill="#e64f6a"/>
<line x1="201.69" y1="131.41" x2="201.69" y2="172.85" stroke="#e64f6a" stroke-width="0.8"/>
<rect x="200.34" y="135.00" width="2.7" height="34.00" fill="#e64f6a"/>
<line x1="205.47" y1="162.97" x2="205.47" y2="170.12" stroke="#2ba58b" stroke-width="0.8"/>
<rect x="204.12" y="164.00" width="2.7" height="5.00" fill="#2ba58b"/>
<line x1="209.26" y1="162.69" x2="209.26" y2="173.32" stroke="#e64f6a" stroke-width="0.8"/>
<rect x="207.91" y="164.00" width="2.7" height="8.00" fill="#e64f6a"/>
<line x1="213.04" y1="169.80" x2="213.04" y2="196.26" stroke="#e64f6a" stroke-width="0.8"/>
<rect x="211.69" y="172.00" width="2.7" height="21.70" fill="#e64f6a"/>
<line x1="216.82" y1="180.58" x2="216.82" y2="194.21" stroke="#2ba58b" stroke-width="0.8"/>
<rect x="215.47" y="182.00" width="2.7" height="11.70" fill="#2ba58b"/>
<line x1="220.60" y1="180.03" x2="220.60" y2="190.79" stroke="#e64f6a" stroke-width="0.8"/>
<rect x="219.25" y="182.00" width="2.7" height="7.00" fill="#e64f6a"/>
<line x1="224.38" y1="186.52" x2="224.38" y2="201.84" stroke="#e64f6a" stroke-width="0.8"/>
<rect x="223.03" y="189.00" width="2.7" height="9.00" fill="#e64f6a"/>
<line x1="228.17" y1="195.08" x2="228.17" y2="208.30" stroke="#e64f6a" stroke-width="0.8"/>
<rect x="226.82" y="198.00" width="2.7" height="8.00" fill="#e64f6a"/>
<line x1="231.95" y1="203.34" x2="231.95" y2="222.87" stroke="#e64f6a" stroke-width="0.8"/>
<rect x="230.60" y="206.00" width="2.7" height="14.00" fill="#e64f6a"/>
<line x1="235.73" y1="210.31" x2="235.73" y2="223.65" stroke="#2ba58b" stroke-width="0.8"/>
<rect x="234.38" y="211.00" width="2.7" height="9.00" fill="#2ba58b"/>
<line x1="239.51" y1="203.77" x2="239.51" y2="214.56" stroke="#2ba58b" stroke-width="0.8"/>
<rect x="238.16" y="207.00" width="2.7" height="4.00" fill="#2ba58b"/>
<line x1="243.29" y1="203.71" x2="243.29" y2="212.70" stroke="#e64f6a" stroke-width="0.8"/>
<rect x="241.94" y="207.00" width="2.7" height="3.82" fill="#e64f6a"/>
<line x1="247.08" y1="208.93" x2="247.08" y2="217.86" stroke="#e64f6a" stroke-width="0.8"/>
<rect x="245.73" y="210.82" width="2.7" height="6.18" fill="#e64f6a"/>
<line x1="250.86" y1="201.28" x2="250.86" y2="217.72" stroke="#2ba58b" stroke-width="0.8"/>
<rect x="249.51" y="204.00" width="2.7" height="13.00" fill="#2ba58b"/>
<line x1="254.64" y1="199.26" x2="254.64" y2="205.23" stroke="#2ba58b" stroke-width="0.8"/>
<rect x="253.29" y="200.00" width="2.7" height="4.00" fill="#2ba58b"/>
<line x1="258.42" y1="196.93" x2="258.42" y2="201.69" stroke="#2ba58b" stroke-width="0.8"/>
<rect x="257.07" y="198.00" width="2.7" height="2.00" fill="#2ba58b"/>
<line x1="262.20" y1="196.32" x2="262.20" y2="198.50" stroke="#2ba58b" stroke-width="0.8"/>
<rect x="260.85" y="197.00" width="2.7" height="1.00" fill="#2ba58b"/>
<line x1="265.99" y1="194.97" x2="265.99" y2="197.86" stroke="#2ba58b" stroke-width="0.8"/>
<rect x="264.64" y="196.00" width="2.7" height="1.00" fill="#2ba58b"/>
<line x1="269.77" y1="194.23" x2="269.77" y2="211.59" stroke="#e64f6a" stroke-width="0.8"/>
<rect x="268.42" y="196.00" width="2.7" height="15.00" fill="#e64f6a"/>
<line x1="273.55" y1="203.44" x2="273.55" y2="213.65" stroke="#2ba58b" stroke-width="0.8"/>
<rect x="272.20" y="207.00" width="2.7" height="4.00" fill="#2ba58b"/>
<line x1="277.33" y1="205.98" x2="277.33" y2="212.38" stroke="#e64f6a" stroke-width="0.8"/>
<rect x="275.98" y="207.00" width="2.7" height="4.00" fill="#e64f6a"/>
<line x1="281.11" y1="202.28" x2="281.11" y2="212.77" stroke="#2ba58b" stroke-width="0.8"/>
<rect x="279.76" y="204.00" width="2.7" height="7.00" fill="#2ba58b"/>
<line x1="284.90" y1="203.07" x2="284.90" y2="217.47" stroke="#e64f6a" stroke-width="0.8"/>
<rect x="283.55" y="204.00" width="2.7" height="10.00" fill="#e64f6a"/>
<line x1="288.68" y1="205.02" x2="288.68" y2="216.13" stroke="#2ba58b" stroke-width="0.8"/>
<rect x="287.33" y="209.00" width="2.7" height="5.00" fill="#2ba58b"/>
<line x1="292.46" y1="206.81" x2="292.46" y2="213.80" stroke="#e64f6a" stroke-width="0.8"/>
<rect x="291.11" y="209.00" width="2.7" height="4.00" fill="#e64f6a"/>
<line x1="296.24" y1="212.14" x2="296.24" y2="237.70" stroke="#e64f6a" stroke-width="0.8"/>
<rect x="294.89" y="213.00" width="2.7" height="23.00" fill="#e64f6a"/>
<line x1="300.02" y1="234.57" x2="300.02" y2="265.40" stroke="#e64f6a" stroke-width="0.8"/>
<rect x="298.67" y="236.00" width="2.7" height="26.00" fill="#e64f6a"/>
<line x1="303.81" y1="251.93" x2="303.81" y2="262.58" stroke="#2ba58b" stroke-width="0.8"/>
<rect x="302.46" y="253.00" width="2.7" height="9.00" fill="#2ba58b"/>
<line x1="307.59" y1="241.17" x2="307.59" y2="255.35" stroke="#2ba58b" stroke-width="0.8"/>
<rect x="306.24" y="245.00" width="2.7" height="8.00" fill="#2ba58b"/>
<line x1="311.37" y1="243.99" x2="311.37" y2="257.40" stroke="#e64f6a" stroke-width="0.8"/>
<rect x="310.02" y="245.00" width="2.7" height="10.00" fill="#e64f6a"/>
<line x1="315.15" y1="252.41" x2="315.15" y2="257.35" stroke="#2ba58b" stroke-width="0.8"/>
<rect x="313.80" y="253.00" width="2.7" height="2.00" fill="#2ba58b"/>
<line x1="318.93" y1="249.08" x2="318.93" y2="265.52" stroke="#e64f6a" stroke-width="0.8"/>
<rect x="317.58" y="253.00" width="2.7" height="9.00" fill="#e64f6a"/>
<line x1="322.72" y1="251.06" x2="322.72" y2="263.41" stroke="#2ba58b" stroke-width="0.8"/>
<rect x="321.37" y="254.00" width="2.7" height="8.00" fill="#2ba58b"/>
<line x1="326.50" y1="252.22" x2="326.50" y2="261.08" stroke="#e64f6a" stroke-width="0.8"/>
<rect x="325.15" y="254.00" width="2.7" height="6.00" fill="#e64f6a"/>
<line x1="330.28" y1="256.80" x2="330.28" y2="269.36" stroke="#e64f6a" stroke-width="0.8"/>
<rect x="328.93" y="260.00" width="2.7" height="7.00" fill="#e64f6a"/>
<line x1="334.06" y1="263.77" x2="334.06" y2="271.65" stroke="#e64f6a" stroke-width="0.8"/>
<rect x="332.71" y="267.00" width="2.7" height="3.00" fill="#e64f6a"/>
<line x1="337.84" y1="258.72" x2="337.84" y2="273.34" stroke="#2ba58b" stroke-width="0.8"/>
<rect x="336.49" y="260.00" width="2.7" height="10.00" fill="#2ba58b"/>
<line x1="341.63" y1="256.05" x2="341.63" y2="270.48" stroke="#e64f6a" stroke-width="0.8"/>
<rect x="340.28" y="260.00" width="2.7" height="7.00" fill="#e64f6a"/>
<line x1="345.41" y1="246.68" x2="345.41" y2="270.36" stroke="#2ba58b" stroke-width="0.8"/>
<rect x="344.06" y="250.00" width="2.7" height="17.00" fill="#2ba58b"/>
<line x1="349.19" y1="232.91" x2="349.19" y2="251.29" stroke="#2ba58b" stroke-width="0.8"/>
<rect x="347.84" y="236.00" width="2.7" height="14.00" fill="#2ba58b"/>
<line x1="352.97" y1="233.69" x2="352.97" y2="244.74" stroke="#e64f6a" stroke-width="0.8"/>
<rect x="351.62" y="236.00" width="2.7" height="7.00" fill="#e64f6a"/>
<line x1="356.75" y1="232.40" x2="356.75" y2="243.60" stroke="#2ba58b" stroke-width="0.8"/>
<rect x="355.40" y="233.00" width="2.7" height="10.00" fill="#2ba58b"/>
<line x1="360.54" y1="209.52" x2="360.54" y2="234.41" stroke="#2ba58b" stroke-width="0.8"/>
<rect x="359.19" y="211.00" width="2.7" height="22.00" fill="#2ba58b"/>
<line x1="364.32" y1="189.50" x2="364.32" y2="214.85" stroke="#2ba58b" stroke-width="0.8"/>
<rect x="362.97" y="197.00" width="2.7" height="14.00" fill="#2ba58b"/>
<line x1="368.10" y1="194.93" x2="368.10" y2="248.78" stroke="#e64f6a" stroke-width="0.8"/>
<rect x="366.75" y="197.00" width="2.7" height="48.00" fill="#e64f6a"/>
<line x1="371.88" y1="232.04" x2="371.88" y2="248.84" stroke="#2ba58b" stroke-width="0.8"/>
<rect x="370.53" y="236.00" width="2.7" height="9.00" fill="#2ba58b"/>
<line x1="375.66" y1="221.22" x2="375.66" y2="237.27" stroke="#2ba58b" stroke-width="0.8"/>
<rect x="374.31" y="223.00" width="2.7" height="13.00" fill="#2ba58b"/>
<line x1="379.45" y1="221.71" x2="379.45" y2="229.19" stroke="#e64f6a" stroke-width="0.8"/>
<rect x="378.10" y="223.00" width="2.7" height="5.00" fill="#e64f6a"/>
<line x1="383.23" y1="219.78" x2="383.23" y2="230.68" stroke="#2ba58b" stroke-width="0.8"/>
<rect x="381.88" y="221.00" width="2.7" height="7.00" fill="#2ba58b"/>
<line x1="387.01" y1="217.35" x2="387.01" y2="229.44" stroke="#e64f6a" stroke-width="0.8"/>
<rect x="385.66" y="221.00" width="2.7" height="5.00" fill="#e64f6a"/>
<line x1="390.79" y1="211.82" x2="390.79" y2="228.79" stroke="#2ba58b" stroke-width="0.8"/>
<rect x="389.44" y="214.00" width="2.7" height="12.00" fill="#2ba58b"/>
<line x1="394.57" y1="210.70" x2="394.57" y2="216.80" stroke="#e64f6a" stroke-width="0.8"/>
<rect x="393.22" y="214.00" width="2.7" height="2.00" fill="#e64f6a"/>
<line x1="398.36" y1="211.82" x2="398.36" y2="219.74" stroke="#e64f6a" stroke-width="0.8"/>
<rect x="397.01" y="215.50" width="2.7" height="1.00" fill="#e64f6a"/>
<line x1="402.14" y1="210.87" x2="402.14" y2="218.17" stroke="#2ba58b" stroke-width="0.8"/>
<rect x="400.79" y="214.00" width="2.7" height="2.00" fill="#2ba58b"/>
<line x1="405.92" y1="212.88" x2="405.92" y2="226.26" stroke="#e64f6a" stroke-width="0.8"/>
<rect x="404.57" y="214.00" width="2.7" height="9.00" fill="#e64f6a"/>
<line x1="409.70" y1="221.34" x2="409.70" y2="239.30" stroke="#e64f6a" stroke-width="0.8"/>
<rect x="408.35" y="223.00" width="2.7" height="13.00" fill="#e64f6a"/>
<line x1="413.48" y1="229.10" x2="413.48" y2="237.89" stroke="#2ba58b" stroke-width="0.8"/>
<rect x="412.13" y="233.00" width="2.7" height="3.00" fill="#2ba58b"/>
<line x1="417.27" y1="231.10" x2="417.27" y2="241.81" stroke="#e64f6a" stroke-width="0.8"/>
<rect x="415.92" y="233.00" width="2.7" height="5.00" fill="#e64f6a"/>
<line x1="421.05" y1="231.96" x2="421.05" y2="239.10" stroke="#2ba58b" stroke-width="0.8"/>
<rect x="419.70" y="235.00" width="2.7" height="3.00" fill="#2ba58b"/>
<line x1="424.83" y1="233.47" x2="424.83" y2="239.17" stroke="#2ba58b" stroke-width="0.8"/>
<rect x="423.48" y="234.50" width="2.7" height="1.00" fill="#2ba58b"/>
<line x1="428.61" y1="233.49" x2="428.61" y2="238.89" stroke="#e64f6a" stroke-width="0.8"/>
<rect x="427.26" y="234.50" width="2.7" height="1.00" fill="#e64f6a"/>
<line x1="432.39" y1="231.07" x2="432.39" y2="241.50" stroke="#e64f6a" stroke-width="0.8"/>
<rect x="431.04" y="235.00" width="2.7" height="3.70" fill="#e64f6a"/>
<line x1="436.18" y1="236.97" x2="436.18" y2="245.92" stroke="#e64f6a" stroke-width="0.8"/>
<rect x="434.83" y="238.70" width="2.7" height="4.80" fill="#e64f6a"/>
<line x1="439.96" y1="241.04" x2="439.96" y2="244.05" stroke="#2ba58b" stroke-width="0.8"/>
<rect x="438.61" y="242.00" width="2.7" height="1.50" fill="#2ba58b"/>
<line x1="443.74" y1="238.10" x2="443.74" y2="251.17" stroke="#e64f6a" stroke-width="0.8"/>
<rect x="442.39" y="242.00" width="2.7" height="6.40" fill="#e64f6a"/>
<line x1="447.52" y1="242.36" x2="447.52" y2="252.17" stroke="#2ba58b" stroke-width="0.8"/>
<rect x="446.17" y="244.70" width="2.7" height="3.70" fill="#2ba58b"/>
<line x1="451.30" y1="237.98" x2="451.30" y2="248.25" stroke="#2ba58b" stroke-width="0.8"/>
<rect x="449.95" y="240.00" width="2.7" height="4.70" fill="#2ba58b"/>
<line x1="455.09" y1="225.61" x2="455.09" y2="241.24" stroke="#2ba58b" stroke-width="0.8"/>
<rect x="453.74" y="229.00" width="2.7" height="11.00" fill="#2ba58b"/>
<line x1="458.87" y1="227.62" x2="458.87" y2="234.13" stroke="#e64f6a" stroke-width="0.8"/>
<rect x="457.52" y="229.00" width="2.7" height="3.60" fill="#e64f6a"/>
<line x1="462.65" y1="231.26" x2="462.65" y2="241.25" stroke="#e64f6a" stroke-width="0.8"/>
<rect x="461.30" y="232.60" width="2.7" height="6.10" fill="#e64f6a"/>
<line x1="466.43" y1="237.29" x2="466.43" y2="250.37" stroke="#e64f6a" stroke-width="0.8"/>
<rect x="465.08" y="238.70" width="2.7" height="9.70" fill="#e64f6a"/>
<line x1="470.21" y1="247.44" x2="470.21" y2="253.29" stroke="#e64f6a" stroke-width="0.8"/>
<rect x="468.86" y="248.40" width="2.7" height="1.20" fill="#e64f6a"/>
<line x1="474.00" y1="247.86" x2="474.00" y2="254.10" stroke="#e64f6a" stroke-width="0.8"/>
<rect x="472.65" y="249.60" width="2.7" height="2.40" fill="#e64f6a"/>
<line x1="477.78" y1="249.46" x2="477.78" y2="264.17" stroke="#e64f6a" stroke-width="0.8"/>
<rect x="476.43" y="252.00" width="2.7" height="8.50" fill="#e64f6a"/>
<line x1="481.56" y1="258.53" x2="481.56" y2="274.01" stroke="#e64f6a" stroke-width="0.8"/>
<rect x="480.21" y="260.50" width="2.7" height="9.80" fill="#e64f6a"/>
<line x1="485.34" y1="260.74" x2="485.34" y2="272.66" stroke="#2ba58b" stroke-width="0.8"/>
<rect x="483.99" y="263.00" width="2.7" height="7.30" fill="#2ba58b"/>
<line x1="489.12" y1="259.47" x2="489.12" y2="263.57" stroke="#2ba58b" stroke-width="0.8"/>
<rect x="487.77" y="261.80" width="2.7" height="1.20" fill="#2ba58b"/>
<line x1="492.91" y1="258.56" x2="492.91" y2="262.94" stroke="#2ba58b" stroke-width="0.8"/>
<rect x="491.56" y="260.60" width="2.7" height="1.20" fill="#2ba58b"/>
<line x1="496.69" y1="258.79" x2="496.69" y2="263.90" stroke="#2ba58b" stroke-width="0.8"/>
<rect x="495.34" y="259.30" width="2.7" height="1.30" fill="#2ba58b"/>
<line x1="500.47" y1="252.20" x2="500.47" y2="261.46" stroke="#2ba58b" stroke-width="0.8"/>
<rect x="499.12" y="253.30" width="2.7" height="6.00" fill="#2ba58b"/>
<line x1="504.25" y1="246.56" x2="504.25" y2="255.75" stroke="#2ba58b" stroke-width="0.8"/>
<rect x="502.90" y="249.60" width="2.7" height="3.70" fill="#2ba58b"/>
<line x1="508.03" y1="246.76" x2="508.03" y2="251.91" stroke="#2ba58b" stroke-width="0.8"/>
<rect x="506.68" y="248.40" width="2.7" height="1.20" fill="#2ba58b"/>
<line x1="511.82" y1="245.96" x2="511.82" y2="256.54" stroke="#e64f6a" stroke-width="0.8"/>
<rect x="510.47" y="248.40" width="2.7" height="4.90" fill="#e64f6a"/>
<line x1="515.60" y1="252.43" x2="515.60" y2="259.46" stroke="#e64f6a" stroke-width="0.8"/>
<rect x="514.25" y="253.30" width="2.7" height="3.70" fill="#e64f6a"/>
<line x1="519.38" y1="255.63" x2="519.38" y2="262.07" stroke="#e64f6a" stroke-width="0.8"/>
<rect x="518.03" y="257.00" width="2.7" height="3.60" fill="#e64f6a"/>
<line x1="523.16" y1="257.40" x2="523.16" y2="266.48" stroke="#e64f6a" stroke-width="0.8"/>
<rect x="521.81" y="260.60" width="2.7" height="3.60" fill="#e64f6a"/>
<line x1="526.94" y1="255.53" x2="526.94" y2="267.36" stroke="#2ba58b" stroke-width="0.8"/>
<rect x="525.59" y="258.00" width="2.7" height="6.20" fill="#2ba58b"/>
<line x1="530.73" y1="244.71" x2="530.73" y2="260.05" stroke="#2ba58b" stroke-width="0.8"/>
<rect x="529.38" y="248.40" width="2.7" height="9.60" fill="#2ba58b"/>
<line x1="534.51" y1="245.76" x2="534.51" y2="254.27" stroke="#e64f6a" stroke-width="0.8"/>
<rect x="533.16" y="248.40" width="2.7" height="3.60" fill="#e64f6a"/>
<line x1="538.29" y1="247.31" x2="538.29" y2="254.92" stroke="#2ba58b" stroke-width="0.8"/>
<rect x="536.94" y="249.60" width="2.7" height="2.40" fill="#2ba58b"/>
<line x1="542.07" y1="246.32" x2="542.07" y2="251.97" stroke="#2ba58b" stroke-width="0.8"/>
<rect x="540.72" y="248.40" width="2.7" height="1.20" fill="#2ba58b"/>
<line x1="545.85" y1="246.23" x2="545.85" y2="265.60" stroke="#e64f6a" stroke-width="0.8"/>
<rect x="544.50" y="248.40" width="2.7" height="13.40" fill="#e64f6a"/>
<line x1="549.64" y1="257.65" x2="549.64" y2="265.37" stroke="#2ba58b" stroke-width="0.8"/>
<rect x="548.29" y="260.60" width="2.7" height="1.20" fill="#2ba58b"/>
<line x1="553.42" y1="258.69" x2="553.42" y2="263.56" stroke="#e64f6a" stroke-width="0.8"/>
<rect x="552.07" y="260.10" width="2.7" height="1.00" fill="#e64f6a"/>
<line x1="557.20" y1="255.50" x2="557.20" y2="264.04" stroke="#2ba58b" stroke-width="0.8"/>
<rect x="555.85" y="259.30" width="2.7" height="1.30" fill="#2ba58b"/>
<line x1="560.98" y1="258.32" x2="560.98" y2="261.53" stroke="#e64f6a" stroke-width="0.8"/>
<rect x="559.63" y="259.30" width="2.7" height="1.30" fill="#e64f6a"/>
<line x1="564.76" y1="258.55" x2="564.76" y2="262.55" stroke="#e64f6a" stroke-width="0.8"/>
<rect x="563.41" y="260.60" width="2.7" height="1.20" fill="#e64f6a"/>
<line x1="568.55" y1="254.36" x2="568.55" y2="262.56" stroke="#2ba58b" stroke-width="0.8"/>
<rect x="567.20" y="255.70" width="2.7" height="6.10" fill="#2ba58b"/>
<line x1="572.33" y1="247.96" x2="572.33" y2="258.94" stroke="#2ba58b" stroke-width="0.8"/>
<rect x="570.98" y="250.80" width="2.7" height="4.90" fill="#2ba58b"/>
<line x1="576.11" y1="243.56" x2="576.11" y2="251.84" stroke="#2ba58b" stroke-width="0.8"/>
<rect x="574.76" y="247.20" width="2.7" height="3.60" fill="#2ba58b"/>
<line x1="579.89" y1="244.19" x2="579.89" y2="263.31" stroke="#e64f6a" stroke-width="0.8"/>
<rect x="578.54" y="247.20" width="2.7" height="13.30" fill="#e64f6a"/>
<line x1="583.67" y1="259.50" x2="583.67" y2="267.79" stroke="#e64f6a" stroke-width="0.8"/>
<rect x="582.32" y="260.50" width="2.7" height="3.70" fill="#e64f6a"/>
<line x1="587.46" y1="260.31" x2="587.46" y2="270.27" stroke="#e64f6a" stroke-width="0.8"/>
<rect x="586.11" y="264.20" width="2.7" height="4.80" fill="#e64f6a"/>
<line x1="591.24" y1="265.17" x2="591.24" y2="297.89" stroke="#e64f6a" stroke-width="0.8"/>
<rect x="589.89" y="269.00" width="2.7" height="27.00" fill="#e64f6a"/>
<line x1="595.02" y1="286.79" x2="595.02" y2="299.96" stroke="#2ba58b" stroke-width="0.8"/>
<rect x="593.67" y="289.00" width="2.7" height="7.00" fill="#2ba58b"/>
<line x1="598.80" y1="285.59" x2="598.80" y2="296.07" stroke="#e64f6a" stroke-width="0.8"/>
<rect x="597.45" y="289.00" width="2.7" height="6.00" fill="#e64f6a"/>
<line x1="602.58" y1="290.59" x2="602.58" y2="297.30" stroke="#2ba58b" stroke-width="0.8"/>
<rect x="601.23" y="292.60" width="2.7" height="2.40" fill="#2ba58b"/>
<line x1="606.37" y1="288.51" x2="606.37" y2="293.79" stroke="#2ba58b" stroke-width="0.8"/>
<rect x="605.02" y="290.20" width="2.7" height="2.40" fill="#2ba58b"/>
<line x1="610.15" y1="287.39" x2="610.15" y2="293.23" stroke="#2ba58b" stroke-width="0.8"/>
<rect x="608.80" y="289.00" width="2.7" height="1.20" fill="#2ba58b"/>
<line x1="613.93" y1="288.43" x2="613.93" y2="293.84" stroke="#e64f6a" stroke-width="0.8"/>
<rect x="612.58" y="289.00" width="2.7" height="2.40" fill="#e64f6a"/>
<line x1="617.71" y1="289.36" x2="617.71" y2="294.36" stroke="#e64f6a" stroke-width="0.8"/>
<rect x="616.36" y="291.40" width="2.7" height="2.40" fill="#e64f6a"/>
<line x1="621.49" y1="292.14" x2="621.49" y2="300.08" stroke="#e64f6a" stroke-width="0.8"/>
<rect x="620.14" y="293.80" width="2.7" height="3.60" fill="#e64f6a"/>
<line x1="625.28" y1="295.11" x2="625.28" y2="304.23" stroke="#e64f6a" stroke-width="0.8"/>
<rect x="623.93" y="297.40" width="2.7" height="6.10" fill="#e64f6a"/>
<line x1="629.06" y1="299.55" x2="629.06" y2="323.86" stroke="#e64f6a" stroke-width="0.8"/>
<rect x="627.71" y="303.50" width="2.7" height="17.10" fill="#e64f6a"/>
<line x1="632.84" y1="316.70" x2="632.84" y2="323.87" stroke="#e64f6a" stroke-width="0.8"/>
<rect x="631.49" y="320.60" width="2.7" height="2.40" fill="#e64f6a"/>
<line x1="636.62" y1="319.17" x2="636.62" y2="323.64" stroke="#2ba58b" stroke-width="0.8"/>
<rect x="635.27" y="320.60" width="2.7" height="2.40" fill="#2ba58b"/>
<line x1="640.40" y1="318.00" x2="640.40" y2="404.00" stroke="#e64f6a" stroke-width="0.8"/>
<rect x="639.05" y="320.60" width="2.7" height="31.40" fill="#e64f6a"/>
<line x1="644.19" y1="350.05" x2="644.19" y2="353.98" stroke="#2ba58b" stroke-width="0.8"/>
<rect x="642.84" y="351.00" width="2.7" height="1.00" fill="#2ba58b"/>
<line x1="647.97" y1="342.31" x2="647.97" y2="354.37" stroke="#2ba58b" stroke-width="0.8"/>
<rect x="646.62" y="346.00" width="2.7" height="5.00" fill="#2ba58b"/>
<line x1="651.75" y1="344.59" x2="651.75" y2="350.82" stroke="#e64f6a" stroke-width="0.8"/>
<rect x="650.40" y="346.00" width="2.7" height="3.80" fill="#e64f6a"/>
<line x1="655.53" y1="343.58" x2="655.53" y2="352.30" stroke="#2ba58b" stroke-width="0.8"/>
<rect x="654.18" y="347.30" width="2.7" height="2.50" fill="#2ba58b"/>
<line x1="659.31" y1="344.35" x2="659.31" y2="353.01" stroke="#e64f6a" stroke-width="0.8"/>
<rect x="657.96" y="347.30" width="2.7" height="4.90" fill="#e64f6a"/>
<line x1="663.10" y1="346.60" x2="663.10" y2="355.11" stroke="#2ba58b" stroke-width="0.8"/>
<rect x="661.75" y="347.30" width="2.7" height="4.90" fill="#2ba58b"/>
<line x1="666.88" y1="344.01" x2="666.88" y2="348.05" stroke="#2ba58b" stroke-width="0.8"/>
<rect x="665.53" y="346.00" width="2.7" height="1.30" fill="#2ba58b"/>
<line x1="670.66" y1="339.92" x2="670.66" y2="348.72" stroke="#2ba58b" stroke-width="0.8"/>
<rect x="669.31" y="343.70" width="2.7" height="2.30" fill="#2ba58b"/>
<line x1="674.44" y1="336.69" x2="674.44" y2="344.49" stroke="#2ba58b" stroke-width="0.8"/>
<rect x="673.09" y="340.00" width="2.7" height="3.70" fill="#2ba58b"/>
<line x1="678.22" y1="335.30" x2="678.22" y2="340.73" stroke="#2ba58b" stroke-width="0.8"/>
<rect x="676.87" y="338.80" width="2.7" height="1.20" fill="#2ba58b"/>
<line x1="682.01" y1="310.98" x2="682.01" y2="340.89" stroke="#2ba58b" stroke-width="0.8"/>
<rect x="680.66" y="314.50" width="2.7" height="24.30" fill="#2ba58b"/>
<line x1="685.79" y1="311.56" x2="685.79" y2="318.74" stroke="#2ba58b" stroke-width="0.8"/>
<rect x="684.44" y="314.00" width="2.7" height="1.00" fill="#2ba58b"/>
<line x1="689.57" y1="313.06" x2="689.57" y2="321.55" stroke="#e64f6a" stroke-width="0.8"/>
<rect x="688.22" y="314.50" width="2.7" height="6.10" fill="#e64f6a"/>
<line x1="693.35" y1="318.26" x2="693.35" y2="337.73" stroke="#e64f6a" stroke-width="0.8"/>
<rect x="692.00" y="320.60" width="2.7" height="15.80" fill="#e64f6a"/>
<line x1="697.13" y1="335.52" x2="697.13" y2="339.87" stroke="#e64f6a" stroke-width="0.8"/>
<rect x="695.78" y="336.40" width="2.7" height="2.40" fill="#e64f6a"/>
<line x1="700.92" y1="338.12" x2="700.92" y2="343.71" stroke="#e64f6a" stroke-width="0.8"/>
<rect x="699.57" y="338.80" width="2.7" height="3.70" fill="#e64f6a"/>
<line x1="704.70" y1="340.91" x2="704.70" y2="347.67" stroke="#e64f6a" stroke-width="0.8"/>
<rect x="703.35" y="342.50" width="2.7" height="3.60" fill="#e64f6a"/>
<line x1="708.48" y1="342.94" x2="708.48" y2="365.91" stroke="#e64f6a" stroke-width="0.8"/>
<rect x="707.13" y="346.10" width="2.7" height="18.30" fill="#e64f6a"/>
<line x1="712.26" y1="352.35" x2="712.26" y2="365.52" stroke="#2ba58b" stroke-width="0.8"/>
<rect x="710.91" y="354.60" width="2.7" height="9.80" fill="#2ba58b"/>
<line x1="716.04" y1="352.89" x2="716.04" y2="360.06" stroke="#e64f6a" stroke-width="0.8"/>
<rect x="714.69" y="354.60" width="2.7" height="4.90" fill="#e64f6a"/>
<line x1="719.83" y1="342.32" x2="719.83" y2="360.05" stroke="#2ba58b" stroke-width="0.8"/>
<rect x="718.48" y="343.70" width="2.7" height="15.80" fill="#2ba58b"/>
<line x1="723.61" y1="340.63" x2="723.61" y2="347.43" stroke="#e64f6a" stroke-width="0.8"/>
<rect x="722.26" y="343.70" width="2.7" height="1.30" fill="#e64f6a"/>
<line x1="727.39" y1="338.84" x2="727.39" y2="347.16" stroke="#2ba58b" stroke-width="0.8"/>
<rect x="726.04" y="340.00" width="2.7" height="5.00" fill="#2ba58b"/>
<line x1="731.17" y1="328.93" x2="731.17" y2="340.87" stroke="#2ba58b" stroke-width="0.8"/>
<rect x="729.82" y="332.70" width="2.7" height="7.30" fill="#2ba58b"/>
<line x1="734.95" y1="317.23" x2="734.95" y2="334.71" stroke="#2ba58b" stroke-width="0.8"/>
<rect x="733.60" y="320.60" width="2.7" height="12.10" fill="#2ba58b"/>
<line x1="738.74" y1="318.37" x2="738.74" y2="328.82" stroke="#e64f6a" stroke-width="0.8"/>
<rect x="737.39" y="320.60" width="2.7" height="4.80" fill="#e64f6a"/>
<line x1="742.52" y1="318.72" x2="742.52" y2="327.67" stroke="#2ba58b" stroke-width="0.8"/>
<rect x="741.17" y="320.60" width="2.7" height="4.80" fill="#2ba58b"/>
<line x1="746.30" y1="311.59" x2="746.30" y2="324.54" stroke="#2ba58b" stroke-width="0.8"/>
<rect x="744.95" y="314.50" width="2.7" height="6.10" fill="#2ba58b"/>
<line x1="750.08" y1="312.80" x2="750.08" y2="322.71" stroke="#e64f6a" stroke-width="0.8"/>
<rect x="748.73" y="314.50" width="2.7" height="4.80" fill="#e64f6a"/>
<line x1="753.86" y1="313.93" x2="753.86" y2="322.03" stroke="#2ba58b" stroke-width="0.8"/>
<rect x="752.51" y="316.90" width="2.7" height="2.40" fill="#2ba58b"/>
<line x1="757.65" y1="314.98" x2="757.65" y2="323.52" stroke="#e64f6a" stroke-width="0.8"/>
<rect x="756.30" y="316.90" width="2.7" height="4.90" fill="#e64f6a"/>
<line x1="761.43" y1="319.91" x2="761.43" y2="322.75" stroke="#2ba58b" stroke-width="0.8"/>
<rect x="760.08" y="320.60" width="2.7" height="1.20" fill="#2ba58b"/>
<line x1="765.21" y1="319.85" x2="765.21" y2="326.09" stroke="#e64f6a" stroke-width="0.8"/>
<rect x="763.86" y="320.60" width="2.7" height="2.40" fill="#e64f6a"/>
<line x1="768.99" y1="314.31" x2="768.99" y2="324.07" stroke="#2ba58b" stroke-width="0.8"/>
<rect x="767.64" y="315.70" width="2.7" height="7.30" fill="#2ba58b"/>
<line x1="772.77" y1="308.80" x2="772.77" y2="319.14" stroke="#2ba58b" stroke-width="0.8"/>
<rect x="771.42" y="309.60" width="2.7" height="6.10" fill="#2ba58b"/>
<line x1="776.56" y1="306.05" x2="776.56" y2="324.65" stroke="#e64f6a" stroke-width="0.8"/>
<rect x="775.21" y="309.60" width="2.7" height="12.20" fill="#e64f6a"/>
<line x1="780.34" y1="319.11" x2="780.34" y2="323.15" stroke="#2ba58b" stroke-width="0.8"/>
<rect x="778.99" y="320.60" width="2.7" height="1.20" fill="#2ba58b"/>
<line x1="784.12" y1="309.27" x2="784.12" y2="322.71" stroke="#2ba58b" stroke-width="0.8"/>
<rect x="782.77" y="310.80" width="2.7" height="9.80" fill="#2ba58b"/>
<line x1="787.90" y1="301.25" x2="787.90" y2="312.86" stroke="#2ba58b" stroke-width="0.8"/>
<rect x="786.55" y="302.30" width="2.7" height="8.50" fill="#2ba58b"/>
<line x1="791.68" y1="297.28" x2="791.68" y2="306.17" stroke="#2ba58b" stroke-width="0.8"/>
<rect x="790.33" y="298.70" width="2.7" height="3.60" fill="#2ba58b"/>
<line x1="795.47" y1="294.80" x2="795.47" y2="304.71" stroke="#e64f6a" stroke-width="0.8"/>
<rect x="794.12" y="298.70" width="2.7" height="3.60" fill="#e64f6a"/>
<line x1="799.25" y1="300.94" x2="799.25" y2="308.58" stroke="#e64f6a" stroke-width="0.8"/>
<rect x="797.90" y="302.30" width="2.7" height="2.40" fill="#e64f6a"/>
<line x1="803.03" y1="303.12" x2="803.03" y2="311.35" stroke="#e64f6a" stroke-width="0.8"/>
<rect x="801.68" y="304.70" width="2.7" height="4.90" fill="#e64f6a"/>
<line x1="806.81" y1="309.10" x2="806.81" y2="316.34" stroke="#e64f6a" stroke-width="0.8"/>
<rect x="805.46" y="309.60" width="2.7" height="4.90" fill="#e64f6a"/>
<line x1="810.59" y1="311.74" x2="810.59" y2="316.20" stroke="#2ba58b" stroke-width="0.8"/>
<rect x="809.24" y="314.00" width="2.7" height="1.00" fill="#2ba58b"/>
<line x1="814.38" y1="313.48" x2="814.38" y2="316.42" stroke="#e64f6a" stroke-width="0.8"/>
<rect x="813.03" y="314.00" width="2.7" height="1.00" fill="#e64f6a"/>
<line x1="818.16" y1="313.69" x2="818.16" y2="321.20" stroke="#e64f6a" stroke-width="0.8"/>
<rect x="816.81" y="314.50" width="2.7" height="4.80" fill="#e64f6a"/>
<line x1="821.94" y1="318.65" x2="821.94" y2="322.38" stroke="#e64f6a" stroke-width="0.8"/>
<rect x="820.59" y="319.30" width="2.7" height="2.50" fill="#e64f6a"/>
<line x1="825.72" y1="315.44" x2="825.72" y2="323.11" stroke="#2ba58b" stroke-width="0.8"/>
<rect x="824.37" y="317.00" width="2.7" height="4.80" fill="#2ba58b"/>
<line x1="829.50" y1="309.45" x2="829.50" y2="319.35" stroke="#2ba58b" stroke-width="0.8"/>
<rect x="828.15" y="312.00" width="2.7" height="5.00" fill="#2ba58b"/>
<line x1="833.29" y1="308.87" x2="833.29" y2="323.40" stroke="#e64f6a" stroke-width="0.8"/>
<rect x="831.94" y="312.00" width="2.7" height="8.60" fill="#e64f6a"/>
<line x1="837.07" y1="317.59" x2="837.07" y2="331.48" stroke="#e64f6a" stroke-width="0.8"/>
<rect x="835.72" y="320.60" width="2.7" height="7.30" fill="#e64f6a"/>
<line x1="840.85" y1="324.84" x2="840.85" y2="329.54" stroke="#2ba58b" stroke-width="0.8"/>
<rect x="839.50" y="326.70" width="2.7" height="1.20" fill="#2ba58b"/>
<line x1="844.63" y1="303.25" x2="844.63" y2="327.72" stroke="#2ba58b" stroke-width="0.8"/>
<rect x="843.28" y="307.20" width="2.7" height="19.50" fill="#2ba58b"/>
<line x1="848.41" y1="302.97" x2="848.41" y2="309.95" stroke="#2ba58b" stroke-width="0.8"/>
<rect x="847.06" y="306.00" width="2.7" height="1.20" fill="#2ba58b"/>
<line x1="852.20" y1="305.35" x2="852.20" y2="310.62" stroke="#e64f6a" stroke-width="0.8"/>
<rect x="850.85" y="306.00" width="2.7" height="1.20" fill="#e64f6a"/>
<line x1="855.98" y1="303.58" x2="855.98" y2="311.10" stroke="#e64f6a" stroke-width="0.8"/>
<rect x="854.63" y="307.20" width="2.7" height="1.20" fill="#e64f6a"/>
<line x1="859.76" y1="305.33" x2="859.76" y2="314.14" stroke="#e64f6a" stroke-width="0.8"/>
<rect x="858.41" y="308.40" width="2.7" height="2.40" fill="#e64f6a"/>
<line x1="863.54" y1="309.81" x2="863.54" y2="319.33" stroke="#e64f6a" stroke-width="0.8"/>
<rect x="862.19" y="310.80" width="2.7" height="6.20" fill="#e64f6a"/>
<line x1="867.32" y1="314.73" x2="867.32" y2="326.42" stroke="#e64f6a" stroke-width="0.8"/>
<rect x="865.97" y="317.00" width="2.7" height="6.00" fill="#e64f6a"/>
<line x1="871.11" y1="319.68" x2="871.11" y2="330.09" stroke="#e64f6a" stroke-width="0.8"/>
<rect x="869.76" y="323.00" width="2.7" height="3.70" fill="#e64f6a"/>
<line x1="874.89" y1="324.16" x2="874.89" y2="331.52" stroke="#e64f6a" stroke-width="0.8"/>
<rect x="873.54" y="326.70" width="2.7" height="1.20" fill="#e64f6a"/>
<line x1="878.67" y1="325.01" x2="878.67" y2="331.93" stroke="#e64f6a" stroke-width="0.8"/>
<rect x="877.32" y="327.90" width="2.7" height="1.10" fill="#e64f6a"/>
<line x1="882.45" y1="327.00" x2="882.45" y2="329.91" stroke="#2ba58b" stroke-width="0.8"/>
<rect x="881.10" y="328.30" width="2.7" height="1.00" fill="#2ba58b"/>
<line x1="886.23" y1="325.03" x2="886.23" y2="330.36" stroke="#2ba58b" stroke-width="0.8"/>
<rect x="884.88" y="326.00" width="2.7" height="2.60" fill="#2ba58b"/>
<line x1="890.02" y1="322.13" x2="890.02" y2="329.43" stroke="#2ba58b" stroke-width="0.8"/>
<rect x="888.67" y="323.00" width="2.7" height="3.00" fill="#2ba58b"/>
<line x1="893.80" y1="320.55" x2="893.80" y2="327.02" stroke="#e64f6a" stroke-width="0.8"/>
<rect x="892.45" y="323.00" width="2.7" height="1.32" fill="#e64f6a"/>
<line x1="897.58" y1="321.63" x2="897.58" y2="328.88" stroke="#e64f6a" stroke-width="0.8"/>
<rect x="896.23" y="324.32" width="2.7" height="1.68" fill="#e64f6a"/>
<line x1="901.36" y1="322.79" x2="901.36" y2="326.51" stroke="#2ba58b" stroke-width="0.8"/>
<rect x="900.01" y="325.00" width="2.7" height="1.00" fill="#2ba58b"/>
<line x1="905.14" y1="320.71" x2="905.14" y2="328.12" stroke="#2ba58b" stroke-width="0.8"/>
<rect x="903.79" y="324.00" width="2.7" height="1.00" fill="#2ba58b"/>
<line x1="908.93" y1="321.16" x2="908.93" y2="326.79" stroke="#2ba58b" stroke-width="0.8"/>
<rect x="907.58" y="323.42" width="2.7" height="1.00" fill="#2ba58b"/>
<line x1="912.71" y1="320.36" x2="912.71" y2="324.90" stroke="#2ba58b" stroke-width="0.8"/>
<rect x="911.36" y="323.17" width="2.7" height="1.00" fill="#2ba58b"/>
<line x1="916.49" y1="319.70" x2="916.49" y2="325.16" stroke="#2ba58b" stroke-width="0.8"/>
<rect x="915.14" y="322.78" width="2.7" height="1.00" fill="#2ba58b"/>
<line x1="920.27" y1="321.57" x2="920.27" y2="324.76" stroke="#2ba58b" stroke-width="0.8"/>
<rect x="918.92" y="322.33" width="2.7" height="1.00" fill="#2ba58b"/>
<line x1="924.05" y1="319.55" x2="924.05" y2="327.22" stroke="#e64f6a" stroke-width="0.8"/>
<rect x="922.70" y="322.60" width="2.7" height="3.40" fill="#e64f6a"/>
<line x1="927.84" y1="322.91" x2="927.84" y2="332.92" stroke="#e64f6a" stroke-width="0.8"/>
<rect x="926.49" y="326.00" width="2.7" height="3.00" fill="#e64f6a"/>
<line x1="931.62" y1="326.77" x2="931.62" y2="333.84" stroke="#e64f6a" stroke-width="0.8"/>
<rect x="930.27" y="329.00" width="2.7" height="3.00" fill="#e64f6a"/>
<line x1="935.40" y1="329.82" x2="935.40" y2="338.39" stroke="#e64f6a" stroke-width="0.8"/>
<rect x="934.05" y="332.00" width="2.7" height="3.50" fill="#e64f6a"/>
<line x1="939.18" y1="332.32" x2="939.18" y2="342.16" stroke="#e64f6a" stroke-width="0.8"/>
<rect x="937.83" y="335.50" width="2.7" height="4.00" fill="#e64f6a"/>
<line x1="942.96" y1="336.75" x2="942.96" y2="341.59" stroke="#e64f6a" stroke-width="0.8"/>
<rect x="941.61" y="339.50" width="2.7" height="1.32" fill="#e64f6a"/>
<line x1="946.75" y1="339.80" x2="946.75" y2="343.39" stroke="#e64f6a" stroke-width="0.8"/>
<rect x="945.40" y="340.82" width="2.7" height="1.18" fill="#e64f6a"/>
<line x1="950.53" y1="336.90" x2="950.53" y2="343.57" stroke="#2ba58b" stroke-width="0.8"/>
<rect x="949.18" y="340.00" width="2.7" height="2.00" fill="#2ba58b"/>
<line x1="954.31" y1="336.31" x2="954.31" y2="340.54" stroke="#2ba58b" stroke-width="0.8"/>
<rect x="952.96" y="338.80" width="2.7" height="1.20" fill="#2ba58b"/>
<line x1="958.09" y1="336.96" x2="958.09" y2="342.25" stroke="#2ba58b" stroke-width="0.8"/>
<rect x="956.74" y="338.40" width="2.7" height="1.00" fill="#2ba58b"/>
<line x1="961.87" y1="335.83" x2="961.87" y2="342.61" stroke="#e64f6a" stroke-width="0.8"/>
<rect x="960.52" y="338.75" width="2.7" height="1.00" fill="#e64f6a"/>
<line x1="965.66" y1="323.08" x2="965.66" y2="341.81" stroke="#2ba58b" stroke-width="0.8"/>
<rect x="964.31" y="324.60" width="2.7" height="14.90" fill="#2ba58b"/>
<line x1="969.44" y1="319.67" x2="969.44" y2="326.73" stroke="#2ba58b" stroke-width="0.8"/>
<rect x="968.09" y="321.80" width="2.7" height="2.80" fill="#2ba58b"/>
<line x1="973.22" y1="318.09" x2="973.22" y2="325.43" stroke="#2ba58b" stroke-width="0.8"/>
<rect x="971.87" y="319.00" width="2.7" height="2.80" fill="#2ba58b"/>
<line x1="977.00" y1="317.80" x2="977.00" y2="324.92" stroke="#e64f6a" stroke-width="0.8"/>
<rect x="975.65" y="319.00" width="2.7" height="2.00" fill="#e64f6a"/>
<line x1="980.78" y1="316.64" x2="980.78" y2="321.98" stroke="#2ba58b" stroke-width="0.8"/>
<rect x="979.43" y="320.42" width="2.7" height="1.00" fill="#2ba58b"/>
<line x1="984.57" y1="318.11" x2="984.57" y2="324.59" stroke="#2ba58b" stroke-width="0.8"/>
<rect x="983.22" y="320.22" width="2.7" height="1.00" fill="#2ba58b"/>
<line x1="988.35" y1="318.03" x2="988.35" y2="322.54" stroke="#e64f6a" stroke-width="0.8"/>
<rect x="987.00" y="320.10" width="2.7" height="1.00" fill="#e64f6a"/>
<line x1="992.13" y1="319.37" x2="992.13" y2="326.81" stroke="#e64f6a" stroke-width="0.8"/>
<rect x="990.78" y="320.60" width="2.7" height="2.40" fill="#e64f6a"/>
<line x1="995.91" y1="321.76" x2="995.91" y2="342.54" stroke="#e64f6a" stroke-width="0.8"/>
<rect x="994.56" y="323.00" width="2.7" height="17.00" fill="#e64f6a"/>
<line x1="999.69" y1="339.00" x2="999.69" y2="343.53" stroke="#e64f6a" stroke-width="0.8"/>
<rect x="998.34" y="340.00" width="2.7" height="1.20" fill="#e64f6a"/>
<line x1="1003.48" y1="337.37" x2="1003.48" y2="344.66" stroke="#e64f6a" stroke-width="0.8"/>
<rect x="1002.13" y="341.20" width="2.7" height="2.50" fill="#e64f6a"/>
<line x1="1007.26" y1="340.33" x2="1007.26" y2="349.58" stroke="#e64f6a" stroke-width="0.8"/>
<rect x="1005.91" y="343.70" width="2.7" height="3.60" fill="#e64f6a"/>
<line x1="1011.04" y1="341.40" x2="1011.04" y2="350.26" stroke="#2ba58b" stroke-width="0.8"/>
<rect x="1009.69" y="345.00" width="2.7" height="2.30" fill="#2ba58b"/>
<line x1="1014.82" y1="343.69" x2="1014.82" y2="352.14" stroke="#e64f6a" stroke-width="0.8"/>
<rect x="1013.47" y="345.00" width="2.7" height="3.50" fill="#e64f6a"/>
<line x1="1018.60" y1="347.41" x2="1018.60" y2="349.51" stroke="#2ba58b" stroke-width="0.8"/>
<rect x="1017.25" y="348.00" width="2.7" height="1.00" fill="#2ba58b"/>
<line x1="1022.39" y1="346.28" x2="1022.39" y2="351.88" stroke="#e64f6a" stroke-width="0.8"/>
<rect x="1021.04" y="348.50" width="2.7" height="1.30" fill="#e64f6a"/>
<line x1="1026.17" y1="345.74" x2="1026.17" y2="350.79" stroke="#2ba58b" stroke-width="0.8"/>
<rect x="1024.82" y="347.30" width="2.7" height="2.50" fill="#2ba58b"/>
<line x1="1029.95" y1="344.40" x2="1029.95" y2="348.91" stroke="#2ba58b" stroke-width="0.8"/>
<rect x="1028.60" y="346.10" width="2.7" height="1.20" fill="#2ba58b"/>
<line x1="1033.73" y1="342.66" x2="1033.73" y2="347.81" stroke="#e64f6a" stroke-width="0.8"/>
<rect x="1032.38" y="346.10" width="2.7" height="1.20" fill="#e64f6a"/>
<line x1="1037.51" y1="340.57" x2="1037.51" y2="350.74" stroke="#2ba58b" stroke-width="0.8"/>
<rect x="1036.16" y="343.70" width="2.7" height="3.60" fill="#2ba58b"/>
<line x1="1041.30" y1="330.68" x2="1041.30" y2="347.44" stroke="#2ba58b" stroke-width="0.8"/>
<rect x="1039.95" y="331.60" width="2.7" height="12.10" fill="#2ba58b"/>
<line x1="1045.08" y1="322.00" x2="1045.08" y2="335.26" stroke="#2ba58b" stroke-width="0.8"/>
<rect x="1043.73" y="325.00" width="2.7" height="6.60" fill="#2ba58b"/>
<line x1="1048.86" y1="321.14" x2="1048.86" y2="326.80" stroke="#2ba58b" stroke-width="0.8"/>
<rect x="1047.51" y="322.65" width="2.7" height="2.35" fill="#2ba58b"/>
<line x1="1052.64" y1="320.78" x2="1052.64" y2="330.20" stroke="#e64f6a" stroke-width="0.8"/>
<rect x="1051.29" y="322.65" width="2.7" height="3.55" fill="#e64f6a"/>
<line x1="1056.42" y1="323.04" x2="1056.42" y2="328.36" stroke="#2ba58b" stroke-width="0.8"/>
<rect x="1055.07" y="325.60" width="2.7" height="1.00" fill="#2ba58b"/>
<line x1="1060.21" y1="323.00" x2="1060.21" y2="327.46" stroke="#2ba58b" stroke-width="0.8"/>
<rect x="1058.86" y="325.00" width="2.7" height="1.00" fill="#2ba58b"/>
<line x1="1063.99" y1="323.72" x2="1063.99" y2="326.25" stroke="#2ba58b" stroke-width="0.8"/>
<rect x="1062.64" y="324.39" width="2.7" height="1.00" fill="#2ba58b"/>
<line x1="1067.77" y1="320.72" x2="1067.77" y2="326.64" stroke="#2ba58b" stroke-width="0.8"/>
<rect x="1066.42" y="324.14" width="2.7" height="1.00" fill="#2ba58b"/>
<line x1="1071.55" y1="319.98" x2="1071.55" y2="326.12" stroke="#2ba58b" stroke-width="0.8"/>
<rect x="1070.20" y="323.75" width="2.7" height="1.00" fill="#2ba58b"/>
<line x1="1075.33" y1="316.57" x2="1075.33" y2="326.29" stroke="#2ba58b" stroke-width="0.8"/>
<rect x="1073.98" y="318.00" width="2.7" height="6.00" fill="#2ba58b"/>
<line x1="1079.12" y1="307.44" x2="1079.12" y2="319.81" stroke="#2ba58b" stroke-width="0.8"/>
<rect x="1077.77" y="308.60" width="2.7" height="9.40" fill="#2ba58b"/>
<line x1="1082.90" y1="303.65" x2="1082.90" y2="312.19" stroke="#2ba58b" stroke-width="0.8"/>
<rect x="1081.55" y="307.50" width="2.7" height="1.10" fill="#2ba58b"/>
<line x1="1086.68" y1="304.16" x2="1086.68" y2="311.31" stroke="#e64f6a" stroke-width="0.8"/>
<rect x="1085.33" y="307.50" width="2.7" height="1.10" fill="#e64f6a"/>
<line x1="1090.46" y1="304.90" x2="1090.46" y2="316.49" stroke="#e64f6a" stroke-width="0.8"/>
<rect x="1089.11" y="308.60" width="2.7" height="4.10" fill="#e64f6a"/>
<line x1="1094.24" y1="302.18" x2="1094.24" y2="315.72" stroke="#2ba58b" stroke-width="0.8"/>
<rect x="1092.89" y="304.60" width="2.7" height="8.10" fill="#2ba58b"/>
<line x1="1098.03" y1="287.73" x2="1098.03" y2="307.66" stroke="#2ba58b" stroke-width="0.8"/>
<rect x="1096.68" y="288.40" width="2.7" height="16.20" fill="#2ba58b"/>
<line x1="1101.81" y1="276.00" x2="1101.81" y2="294.13" stroke="#e64f6a" stroke-width="0.8"/>
<rect x="1100.46" y="288.40" width="2.7" height="2.60" fill="#e64f6a"/>
<line x1="1105.59" y1="286.24" x2="1105.59" y2="292.50" stroke="#2ba58b" stroke-width="0.8"/>
<rect x="1104.24" y="289.00" width="2.7" height="2.00" fill="#2ba58b"/>
<line x1="1109.37" y1="283.63" x2="1109.37" y2="292.74" stroke="#2ba58b" stroke-width="0.8"/>
<rect x="1108.02" y="284.30" width="2.7" height="4.70" fill="#2ba58b"/>
<line x1="1113.15" y1="282.70" x2="1113.15" y2="286.80" stroke="#2ba58b" stroke-width="0.8"/>
<rect x="1111.80" y="283.65" width="2.7" height="1.00" fill="#2ba58b"/>
<polyline points="23.6,474.0 28.5,481.4 32.2,482.6 36.0,503.5 42.0,501.0 45.7,491.0 51.9,491.0 56.8,488.8 60.5,479.0 64.2,456.8 71.6,447.0 76.5,444.5 80.2,434.7 85.0,429.8 88.8,434.7 92.5,458.0 98.6,442.0 104.7,451.9 109.7,453.0 114.6,450.7 119.5,466.6 125.6,470.3 135.5,471.5 142.9,464.2 147.8,474.0 155.2,479.0 162.5,479.0 165.0,475.2 168.7,480.2 173.6,469.0 178.5,459.3 182.2,464.2 187.1,480.2 194.5,482.6 201.9,496.1 209.2,498.6 216.6,501.0 224.0,506.0 231.4,509.7 238.8,506.0 244.9,504.7 248.6,507.2 253.5,499.8 260.9,498.6 268.3,499.8 273.2,502.3 279.3,498.6 285.5,499.8 292.8,501.0 300.2,519.5 307.4,509.7 313.5,512.1 317.2,509.7 322.1,510.9 327.0,507.2 333.2,512.1 339.3,506.0 344.3,507.2 349.2,490.0 355.3,487.5 360.2,472.8 364.4,469.1 370.1,491.2 375.0,483.8 382.4,485.0 391.0,479.0 395.9,482.6 400.8,480.2 408.2,491.2 415.6,492.5 427.9,491.2 437.7,496.1 446.3,498.6 454.9,481.4 462.3,492.5 472.1,498.6 482.0,512.1 486.9,504.7 494.2,502.3 501.6,493.7 509.0,488.8 516.4,496.1 523.8,506.0 529.9,488.8 542.2,485.0 548.3,499.8 555.7,496.1 564.3,494.9 575.4,478.4 580.3,498.6 586.5,501.0 591.4,520.7 597.5,513.4 601.1,515.8 607.2,508.4 614.6,509.7 622.0,515.8 628.1,526.9 635.5,519.5 640.4,535.5 646.6,523.2 653.9,517.0 661.3,515.8 671.1,508.4 678.5,506.0 682.2,486.3 690.8,490.0 695.7,498.6 703.1,502.3 710.5,513.4 717.9,499.8 725.2,493.7 736.3,478.9 744.9,478.9 752.3,480.2 762.1,481.4 773.2,474.0 779.3,483.8 789.2,467.9 799.0,474.0 808.8,481.4 812.5,478.9 822.4,490.0 829.7,481.4 839.6,497.4 845.7,478.9 855.6,478.9 862.9,488.8 870.3,496.1 877.7,498.6 885.0,497.4 889.8,493.7 897.2,492.5 902.1,493.7 909.5,491.2 920.6,488.8 929.2,498.6 936.6,510.9 944.4,517.0 951.3,508.4 961.1,507.2 966.1,480.2 975.9,470.3 985.7,478.9 989.4,503.5 998.0,510.9 1003.0,515.8 1007.9,509.7 1014.0,517.0 1022.6,510.9 1027.5,501.0 1034.9,496.1 1039.8,478.9 1049.7,464.2 1055.8,474.0 1062.0,472.8 1065.6,475.2 1070.6,471.5 1076.7,467.9 1081.6,455.6 1086.5,456.8 1091.5,465.4 1097.6,448.2 1103.8,450.7 1110.0,447.0" fill="none" stroke="#8482a6" stroke-width="0.95" stroke-linejoin="round"/>
<polyline points="20.0,606.4 29.8,605.2 35.9,611.3 42.0,608.8 45.7,590.4 49.4,600.2 55.6,596.6 60.5,584.3 65.4,569.5 70.3,564.6 75.2,560.9 80.2,563.4 83.8,581.8 88.8,565.8 92.5,599.0 96.1,569.5 104.7,583.0 114.6,575.7 120.7,585.5 129.3,584.3 140.4,592.9 144.1,591.6 149.0,601.5 157.6,618.7 163.8,623.6 168.7,606.4 172.4,633.4 178.5,605.2 184.7,621.1 190.8,629.7 195.7,622.4 204.3,639.6 211.7,643.3 215.4,650.6 219.0,647.0 225.2,653.1 231.4,661.7 237.5,655.6 243.7,645.7 251.0,658.0 257.2,649.4 263.3,634.7 268.3,643.3 275.6,631.0 283.0,626.1 289.2,621.1 300.2,634.7 307.4,600.2 311.1,603.9 314.8,601.5 319.7,613.8 323.4,610.1 329.5,626.1 335.7,643.3 343.0,644.5 351.6,629.7 357.8,637.1 363.9,615.0 368.8,629.7 376.2,605.2 383.6,618.7 388.5,613.8 392.2,621.1 395.9,613.8 403.3,619.9 415.6,622.4 420.5,618.7 425.4,632.2 430.3,622.4 440.2,651.9 445.1,628.5 450.0,638.4 456.1,621.1 467.2,650.6 472.1,649.4 478.3,660.5 485.6,640.8 490.6,644.5 496.7,637.1 501.6,634.7 509.0,631.0 521.3,647.0 529.9,645.7 536.0,638.4 542.2,628.5 548.3,642.0 558.2,627.3 564.3,632.2 572.9,611.3 581.5,628.5 587.7,632.2 591.4,655.6 596.3,634.7 601.1,640.8 607.2,645.7 614.6,655.6 622.0,660.5 629.3,666.6 636.7,653.1 641.6,663.0 647.8,666.6 656.4,649.4 661.3,648.2 667.5,629.7 671.1,640.8 677.3,637.1 683.4,621.1 689.6,606.4 695.7,615.0 701.9,607.6 709.3,627.3 717.9,615.0 727.7,626.1 736.3,607.6 741.2,613.8 752.3,612.5 757.2,616.2 763.3,637.1 772.0,618.7 779.3,613.8 784.2,583.0 790.4,579.3 799.0,594.1 803.9,590.4 808.8,621.1 816.2,628.5 822.4,639.6 828.5,622.4 837.1,638.4 845.7,621.1 849.4,629.7 856.8,618.7 864.2,660.5 870.3,647.0 881.4,639.6 887.4,647.0 892.3,640.8 898.4,635.9 905.8,643.3 914.4,621.1 923.0,645.7 932.9,663.0 939.0,638.4 943.9,634.7 951.3,627.3 955.0,633.4 961.1,622.4 966.1,605.2 974.7,599.0 980.8,595.3 985.7,599.0 989.4,621.1 995.6,632.2 1003.0,616.2 1009.1,611.3 1015.2,623.6 1020.2,621.1 1025.1,627.3 1034.9,623.6 1039.8,613.8 1049.7,610.1 1054.6,621.1 1060.7,627.3 1066.9,616.2 1076.7,611.3 1081.6,606.4 1087.8,613.8 1093.9,603.9 1097.6,586.7 1102.5,602.7 1110.0,597.8" fill="none" stroke="#6a8270" stroke-width="0.9" stroke-linejoin="round"/>
</g><g filter="url(#bt)">
<text x="26" y="34.5" font-family="Liberation Sans, sans-serif" font-size="7" fill="#b4b7be" stroke="#b4b7be" stroke-width="0.45" text-anchor="start" font-weight="normal">ARB / TetherUS, 4h, BINANCE</text>
<text x="128" y="34.5" font-family="Liberation Sans, sans-serif" font-size="7" fill="#b4b7be" stroke="#b4b7be" stroke-width="0.45" text-anchor="start" font-weight="normal">O</text>
<text x="136" y="34.5" font-family="Liberation Sans, sans-serif" font-size="7" fill="#226b60" stroke="#226b60" stroke-width="0.45" text-anchor="start" font-weight="normal">1.2479</text>
<text x="159" y="34.5" font-family="Liberation Sans, sans-serif" font-size="7" fill="#b4b7be" stroke="#b4b7be" stroke-width="0.45" text-anchor="start" font-weight="normal">H</text>
<text x="167" y="34.5" font-family="Liberation Sans, sans-serif" font-size="7" fill="#226b60" stroke="#226b60" stroke-width="0.45" text-anchor="start" font-weight="normal">1.2612</text>
<text x="190" y="34.5" font-family="Liberation Sans, sans-serif" font-size="7" fill="#b4b7be" stroke="#b4b7be" stroke-width="0.45" text-anchor="start" font-weight="normal">L</text>
<text x="195" y="34.5" font-family="Liberation Sans, sans-serif" font-size="7" fill="#226b60" stroke="#226b60" stroke-width="0.45" text-anchor="start" font-weight="normal">1.2462</text>
<text x="220" y="34.5" font-family="Liberation Sans, sans-serif" font-size="7" fill="#b4b7be" stroke="#b4b7be" stroke-width="0.45" text-anchor="start" font-weight="normal">C</text>
<text x="227" y="34.5" font-family="Liberation Sans, sans-serif" font-size="7" fill="#226b60" stroke="#226b60" stroke-width="0.45" text-anchor="start" font-weight="normal">1.2595</text>
<text x="252" y="34.5" font-family="Liberation Sans, sans-serif" font-size="7" fill="#226b60" stroke="#226b60" stroke-width="0.45" text-anchor="start" font-weight="normal">+0.0117 (+0.94%)</text>
<text x="26" y="46" font-family="Liberation Sans, sans-serif" font-size="7" fill="#b4b7be" stroke="#b4b7be" stroke-width="0.45" text-anchor="start" font-weight="normal">Vol · ARB</text>
<text x="59" y="46" font-family="Liberation Sans, sans-serif" font-size="7" fill="#226b60" stroke="#226b60" stroke-width="0.45" text-anchor="start" font-weight="normal">3.758M</text>
<text x="26" y="429.5" font-family="Liberation Sans, sans-serif" font-size="7" fill="#aeb1b8" stroke="#aeb1b8" stroke-width="0.45" text-anchor="start" font-weight="normal">RSI (14, close, SMA, 14, 2)</text>
<text x="118" y="429.5" font-family="Liberation Sans, sans-serif" font-size="7" fill="#5d5a86" stroke="#5d5a86" stroke-width="0.45" text-anchor="start" font-weight="normal">77.24</text>
<circle cx="143" cy="427" r="2.3" fill="#b0b3ba"/><circle cx="143" cy="427" r="0.9" fill="#161a26"/><circle cx="151" cy="427" r="2.2" fill="none" stroke="#b0b3ba" stroke-width="0.9"/><line x1="149.5" y1="428.5" x2="152.5" y2="425.5" stroke="#b0b3ba" stroke-width="0.8"/>
<text x="26" y="561" font-family="Liberation Sans, sans-serif" font-size="7" fill="#aeb1b8" stroke="#aeb1b8" stroke-width="0.45" text-anchor="start" font-weight="normal">CMF (20)</text>
<text x="59.5" y="561" font-family="Liberation Sans, sans-serif" font-size="7" fill="#56705e" stroke="#56705e" stroke-width="0.45" text-anchor="start" font-weight="normal">0.11</text>
<text x="1169" y="34.5" font-family="Liberation Sans, sans-serif" font-size="7" fill="#aeb1b8" stroke="#aeb1b8" stroke-width="0.45" text-anchor="middle" font-weight="normal">USDT</text>
<text x="1169" y="72.5" font-family="Liberation Sans, sans-serif" font-size="7" fill="#aeb1b8" stroke="#aeb1b8" stroke-width="0.45" text-anchor="middle" font-weight="normal">1.8000</text>
<text x="1169" y="112.5" font-family="Liberation Sans, sans-serif" font-size="7" fill="#aeb1b8" stroke="#aeb1b8" stroke-width="0.45" text-anchor="middle" font-weight="normal">1.7000</text>
<text x="1169" y="151.5" font-family="Liberation Sans, sans-serif" font-size="7" fill="#aeb1b8" stroke="#aeb1b8" stroke-width="0.45" text-anchor="middle" font-weight="normal">1.6000</text>
<text x="1169" y="192.0" font-family="Liberation Sans, sans-serif" font-size="7" fill="#aeb1b8" stroke="#aeb1b8" stroke-width="0.45" text-anchor="middle" font-weight="normal">1.5000</text>
<text x="1169" y="230.5" font-family="Liberation Sans, sans-serif" font-size="7" fill="#aeb1b8" stroke="#aeb1b8" stroke-width="0.45" text-anchor="middle" font-weight="normal">1.4000</text>
<text x="1169" y="312.0" font-family="Liberation Sans, sans-serif" font-size="7" fill="#aeb1b8" stroke="#aeb1b8" stroke-width="0.45" text-anchor="middle" font-weight="normal">1.2000</text>
<text x="1169" y="390.5" font-family="Liberation Sans, sans-serif" font-size="7" fill="#aeb1b8" stroke="#aeb1b8" stroke-width="0.45" text-anchor="middle" font-weight="normal">1.0000</text>
<text x="1167" y="445.0" font-family="Liberation Sans, sans-serif" font-size="7" fill="#aeb1b8" stroke="#aeb1b8" stroke-width="0.45" text-anchor="middle" font-weight="normal">80.00</text>
<text x="1167" y="476.0" font-family="Liberation Sans, sans-serif" font-size="7" fill="#aeb1b8" stroke="#aeb1b8" stroke-width="0.45" text-anchor="middle" font-weight="normal">60.00</text>
<text x="1167" y="506.5" font-family="Liberation Sans, sans-serif" font-size="7" fill="#aeb1b8" stroke="#aeb1b8" stroke-width="0.45" text-anchor="middle" font-weight="normal">40.00</text>
<text x="1167" y="536.8" font-family="Liberation Sans, sans-serif" font-size="7" fill="#aeb1b8" stroke="#aeb1b8" stroke-width="0.45" text-anchor="middle" font-weight="normal">20.00</text>
<text x="1167" y="556.5" font-family="Liberation Sans, sans-serif" font-size="7" fill="#aeb1b8" stroke="#aeb1b8" stroke-width="0.45" text-anchor="middle" font-weight="normal">0.30</text>
<text x="1167" y="579.5" font-family="Liberation Sans, sans-serif" font-size="7" fill="#aeb1b8" stroke="#aeb1b8" stroke-width="0.45" text-anchor="middle" font-weight="normal">0.20</text>
<text x="1167" y="601.5" font-family="Liberation Sans, sans-serif" font-size="7" fill="#aeb1b8" stroke="#aeb1b8" stroke-width="0.45" text-anchor="middle" font-weight="normal">0.10</text>
<text x="1167" y="624.9" font-family="Liberation Sans, sans-serif" font-size="7" fill="#aeb1b8" stroke="#aeb1b8" stroke-width="0.45" text-anchor="middle" font-weight="normal">0.00</text>
<text x="1167" y="647.5" font-family="Liberation Sans, sans-serif" font-size="7" fill="#aeb1b8" stroke="#aeb1b8" stroke-width="0.45" text-anchor="middle" font-weight="normal">-0.10</text>
<text x="1167" y="670.5" font-family="Liberation Sans, sans-serif" font-size="7" fill="#aeb1b8" stroke="#aeb1b8" stroke-width="0.45" text-anchor="middle" font-weight="normal">-0.20</text>
<rect x="1153" y="85.5" width="31" height="12" rx="1" fill="#ec9c1c"/>
<text x="1168.5" y="94.0" font-family="Liberation Sans, sans-serif" font-size="7" fill="#7a5012" stroke="#7a5012" stroke-width="0.45" text-anchor="middle" font-weight="normal">1.7611</text>
<rect x="1153" y="152" width="31" height="12" rx="1" fill="#ec9c1c"/>
<text x="1168.5" y="160.5" font-family="Liberation Sans, sans-serif" font-size="7" fill="#7a5012" stroke="#7a5012" stroke-width="0.45" text-anchor="middle" font-weight="normal">1.5774</text>
<rect x="1153" y="214.3" width="31" height="12" rx="1" fill="#ec9c1c"/>
<text x="1168.5" y="222.8" font-family="Liberation Sans, sans-serif" font-size="7" fill="#7a5012" stroke="#7a5012" stroke-width="0.45" text-anchor="middle" font-weight="normal">1.4230</text>
<rect x="1153" y="263.7" width="31" height="12" rx="1" fill="#ec9c1c"/>
<text x="1168.5" y="272.2" font-family="Liberation Sans, sans-serif" font-size="7" fill="#7a5012" stroke="#7a5012" stroke-width="0.45" text-anchor="middle" font-weight="normal">1.2997</text>
<rect x="1153" y="340" width="31" height="12" rx="1" fill="#ec9c1c"/>
<text x="1168.5" y="348.5" font-family="Liberation Sans, sans-serif" font-size="7" fill="#7a5012" stroke="#7a5012" stroke-width="0.45" text-anchor="middle" font-weight="normal">1.1062</text>
<rect x="1153" y="280" width="37" height="20" rx="1" fill="#229585"/>
<text x="1167" y="288.5" font-family="Liberation Sans, sans-serif" font-size="7" fill="#b5e3da" stroke="#b5e3da" stroke-width="0.45" text-anchor="middle" font-weight="normal">1.2595</text>
<text x="1170" y="297.5" font-family="Liberation Sans, sans-serif" font-size="7" fill="#b5e3da" stroke="#b5e3da" stroke-width="0.45" text-anchor="middle" font-weight="normal">03:19:45</text>
<text x="55" y="690" font-family="Liberation Sans, sans-serif" font-size="7" fill="#aeb1b8" stroke="#aeb1b8" stroke-width="0.45" text-anchor="middle" font-weight="normal">13</text>
<text x="145.5" y="690" font-family="Liberation Sans, sans-serif" font-size="7" fill="#aeb1b8" stroke="#aeb1b8" stroke-width="0.45" text-anchor="middle" font-weight="normal">17</text>
<text x="213" y="690" font-family="Liberation Sans, sans-serif" font-size="7" fill="#aeb1b8" stroke="#aeb1b8" stroke-width="0.45" text-anchor="middle" font-weight="normal">20</text>
<text x="303.5" y="690" font-family="Liberation Sans, sans-serif" font-size="7" fill="#aeb1b8" stroke="#aeb1b8" stroke-width="0.45" text-anchor="middle" font-weight="normal">24</text>
<text x="372.5" y="690" font-family="Liberation Sans, sans-serif" font-size="7" fill="#aeb1b8" stroke="#aeb1b8" stroke-width="0.45" text-anchor="middle" font-weight="normal">27</text>
<text x="462" y="690" font-family="Liberation Sans, sans-serif" font-size="7" fill="#aeb1b8" stroke="#aeb1b8" stroke-width="0.45" text-anchor="middle" font-weight="normal">May</text>
<text x="531" y="690" font-family="Liberation Sans, sans-serif" font-size="7" fill="#aeb1b8" stroke="#aeb1b8" stroke-width="0.45" text-anchor="middle" font-weight="normal">4</text>
<text x="622" y="690" font-family="Liberation Sans, sans-serif" font-size="7" fill="#aeb1b8" stroke="#aeb1b8" stroke-width="0.45" text-anchor="middle" font-weight="normal">8</text>
<text x="689.6" y="690" font-family="Liberation Sans, sans-serif" font-size="7" fill="#aeb1b8" stroke="#aeb1b8" stroke-width="0.45" text-anchor="middle" font-weight="normal">11</text>
<text x="780.6" y="690" font-family="Liberation Sans, sans-serif" font-size="7" fill="#aeb1b8" stroke="#aeb1b8" stroke-width="0.45" text-anchor="middle" font-weight="normal">15</text>
<text x="849.4" y="690" font-family="Liberation Sans, sans-serif" font-size="7" fill="#aeb1b8" stroke="#aeb1b8" stroke-width="0.45" text-anchor="middle" font-weight="normal">18</text>
<text x="939" y="690" font-family="Liberation Sans, sans-serif" font-size="7" fill="#aeb1b8" stroke="#aeb1b8" stroke-width="0.45" text-anchor="middle" font-weight="normal">22</text>
<text x="1008" y="690" font-family="Liberation Sans, sans-serif" font-size="7" fill="#aeb1b8" stroke="#aeb1b8" stroke-width="0.45" text-anchor="middle" font-weight="normal">25</text>
<text x="1098.8" y="690" font-family="Liberation Sans, sans-serif" font-size="7" fill="#aeb1b8" stroke="#aeb1b8" stroke-width="0.45" text-anchor="middle" font-weight="normal">29</text>
<g fill="#c9cbd1"><rect x="21" y="704.5" width="5" height="2.5"/><rect x="22.5" y="704.5" width="2" height="8"/><path d="M27 704.5 L33 704.5 L30 712.5 Z"/><circle cx="27.5" cy="705.7" r="1.2"/></g>
<text x="36" y="712" font-family="Liberation Sans, sans-serif" font-size="7.4" fill="#c4c6cc" stroke="#c4c6cc" stroke-width="0.45" text-anchor="start" font-weight="bold">TradingView</text>
</g>
</svg></body></html>
